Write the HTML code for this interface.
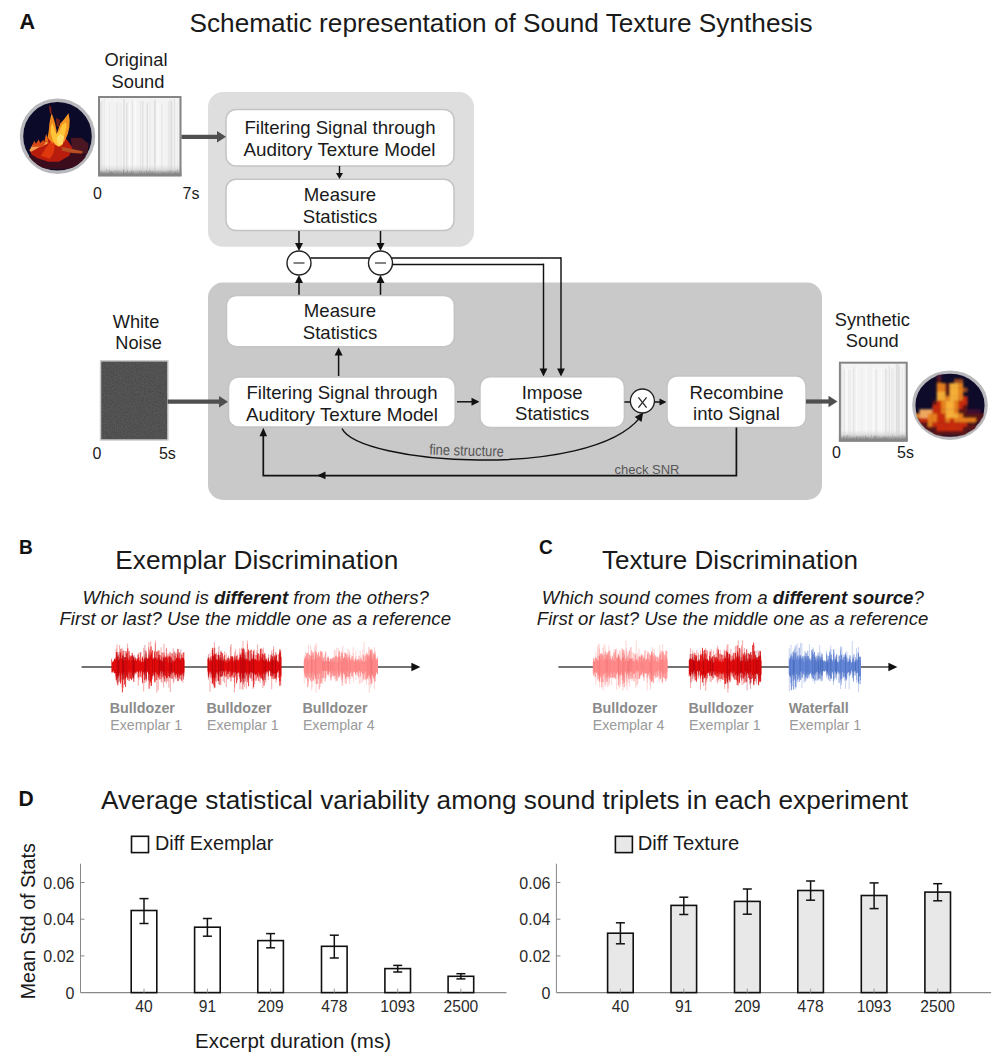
<!DOCTYPE html><html><head><meta charset="utf-8"><style>html,body{margin:0;padding:0;background:#fff;width:1004px;height:1064px;overflow:hidden} svg{display:block} text{font-family:"Liberation Sans", sans-serif}</style></head><body>
<svg width="1004" height="1064" viewBox="0 0 1004 1064">
<rect width="1004" height="1064" fill="#fff"/>
<text x="19.6" y="28.5" font-size="21.5" text-anchor="start" fill="#111" font-weight="bold" textLength="15.6" lengthAdjust="spacingAndGlyphs">A</text>
<text x="189.5" y="31.5" font-size="26" text-anchor="start" fill="#1a1a1a" textLength="623" lengthAdjust="spacingAndGlyphs">Schematic representation of Sound Texture Synthesis</text>
<rect x="208" y="92" width="266" height="154.8" rx="15" fill="#dedede" stroke="none" stroke-width="0"/>
<rect x="208" y="282.5" width="614" height="217.5" rx="15" fill="#c9c9c9" stroke="none" stroke-width="0"/>
<defs><linearGradient id="band" x1="0" y1="0" x2="0" y2="1"><stop offset="0" stop-color="#ddd" stop-opacity="0"/><stop offset="0.45" stop-color="#c8c8c8" stop-opacity="0.6"/><stop offset="0.75" stop-color="#8a8a8a" stop-opacity="0.9"/><stop offset="1" stop-color="#707070" stop-opacity="1"/></linearGradient><filter id="noise" x="0" y="0" width="100%" height="100%"><feTurbulence type="fractalNoise" baseFrequency="0.9" numOctaves="2" seed="3"/><feColorMatrix type="matrix" values="0 0 0 0 0.5  0 0 0 0 0.5  0 0 0 0 0.5  0 0 0 0.6 -0.1"/><feComposite in2="SourceGraphic" operator="in"/></filter><filter id="soft2"><feGaussianBlur stdDeviation="0.8"/></filter><filter id="soft"><feGaussianBlur stdDeviation="0.45"/></filter><clipPath id="fc1"><circle cx="57.5" cy="136.3" r="35"/></clipPath><clipPath id="fc2"><ellipse cx="950" cy="405.2" rx="35.5" ry="32.5"/></clipPath></defs>
<g>
<rect x="98" y="96" width="83.5" height="80.30000000000001" fill="#f4f4f4"/>
<line x1="100.5" y1="101.4" x2="100.5" y2="174.3" stroke="rgb(226,226,226)" stroke-width="1.44"/>
<line x1="101.8" y1="101.0" x2="101.8" y2="174.3" stroke="rgb(225,225,225)" stroke-width="1.16"/>
<line x1="104.2" y1="98.6" x2="104.2" y2="174.3" stroke="rgb(231,231,231)" stroke-width="0.82"/>
<line x1="106.9" y1="101.6" x2="106.9" y2="174.3" stroke="rgb(245,245,245)" stroke-width="1.41"/>
<line x1="109.3" y1="102.3" x2="109.3" y2="174.3" stroke="rgb(235,235,235)" stroke-width="0.98"/>
<line x1="112.2" y1="98.2" x2="112.2" y2="174.3" stroke="rgb(238,238,238)" stroke-width="0.82"/>
<line x1="114.4" y1="102.1" x2="114.4" y2="174.3" stroke="rgb(242,242,242)" stroke-width="1.58"/>
<line x1="116.9" y1="102.6" x2="116.9" y2="174.3" stroke="rgb(232,232,232)" stroke-width="1.55"/>
<line x1="119.1" y1="99.4" x2="119.1" y2="174.3" stroke="rgb(240,240,240)" stroke-width="0.98"/>
<line x1="121.1" y1="103.6" x2="121.1" y2="174.3" stroke="rgb(236,236,236)" stroke-width="1.13"/>
<line x1="124.0" y1="99.1" x2="124.0" y2="174.3" stroke="rgb(224,224,224)" stroke-width="1.59"/>
<line x1="126.7" y1="102.5" x2="126.7" y2="174.3" stroke="rgb(225,225,225)" stroke-width="1.52"/>
<line x1="129.7" y1="103.6" x2="129.7" y2="174.3" stroke="rgb(250,250,250)" stroke-width="1.14"/>
<line x1="132.4" y1="99.8" x2="132.4" y2="174.3" stroke="rgb(230,230,230)" stroke-width="1.27"/>
<line x1="135.2" y1="100.4" x2="135.2" y2="174.3" stroke="rgb(250,250,250)" stroke-width="1.48"/>
<line x1="137.2" y1="100.5" x2="137.2" y2="174.3" stroke="rgb(243,243,243)" stroke-width="0.94"/>
<line x1="139.4" y1="98.5" x2="139.4" y2="174.3" stroke="rgb(241,241,241)" stroke-width="1.33"/>
<line x1="140.8" y1="101.1" x2="140.8" y2="174.3" stroke="rgb(228,228,228)" stroke-width="1.11"/>
<line x1="142.9" y1="100.8" x2="142.9" y2="174.3" stroke="rgb(219,219,219)" stroke-width="1.05"/>
<line x1="145.6" y1="101.9" x2="145.6" y2="174.3" stroke="rgb(243,243,243)" stroke-width="0.93"/>
<line x1="147.2" y1="102.6" x2="147.2" y2="174.3" stroke="rgb(218,218,218)" stroke-width="1.23"/>
<line x1="150.0" y1="100.4" x2="150.0" y2="174.3" stroke="rgb(232,232,232)" stroke-width="1.08"/>
<line x1="152.7" y1="100.8" x2="152.7" y2="174.3" stroke="rgb(240,240,240)" stroke-width="1.02"/>
<line x1="154.9" y1="100.3" x2="154.9" y2="174.3" stroke="rgb(218,218,218)" stroke-width="1.49"/>
<line x1="157.8" y1="102.9" x2="157.8" y2="174.3" stroke="rgb(250,250,250)" stroke-width="1.21"/>
<line x1="160.0" y1="103.7" x2="160.0" y2="174.3" stroke="rgb(245,245,245)" stroke-width="1.18"/>
<line x1="161.9" y1="103.6" x2="161.9" y2="174.3" stroke="rgb(230,230,230)" stroke-width="1.13"/>
<line x1="164.6" y1="100.1" x2="164.6" y2="174.3" stroke="rgb(244,244,244)" stroke-width="1.23"/>
<line x1="166.9" y1="100.7" x2="166.9" y2="174.3" stroke="rgb(239,239,239)" stroke-width="0.82"/>
<line x1="168.5" y1="101.3" x2="168.5" y2="174.3" stroke="rgb(229,229,229)" stroke-width="0.94"/>
<line x1="169.9" y1="98.2" x2="169.9" y2="174.3" stroke="rgb(234,234,234)" stroke-width="1.55"/>
<line x1="171.2" y1="100.7" x2="171.2" y2="174.3" stroke="rgb(219,219,219)" stroke-width="1.40"/>
<line x1="172.9" y1="98.7" x2="172.9" y2="174.3" stroke="rgb(235,235,235)" stroke-width="1.30"/>
<line x1="174.7" y1="99.0" x2="174.7" y2="174.3" stroke="rgb(222,222,222)" stroke-width="1.00"/>
<line x1="177.6" y1="101.9" x2="177.6" y2="174.3" stroke="rgb(235,235,235)" stroke-width="1.04"/>
<rect x="98" y="164.3" width="83.5" height="12" fill="url(#band)"/>
<line x1="100.0" y1="170.9" x2="100.0" y2="174.3" stroke="rgb(141,141,141)" stroke-width="0.7" opacity="0.7"/>
<line x1="101.2" y1="171.3" x2="101.2" y2="174.3" stroke="rgb(134,134,134)" stroke-width="0.7" opacity="0.7"/>
<line x1="103.9" y1="172.0" x2="103.9" y2="174.3" stroke="rgb(126,126,126)" stroke-width="0.7" opacity="0.7"/>
<line x1="106.7" y1="169.4" x2="106.7" y2="174.3" stroke="rgb(142,142,142)" stroke-width="0.7" opacity="0.7"/>
<line x1="109.6" y1="169.8" x2="109.6" y2="174.3" stroke="rgb(137,137,137)" stroke-width="0.7" opacity="0.7"/>
<line x1="110.9" y1="171.1" x2="110.9" y2="174.3" stroke="rgb(111,111,111)" stroke-width="0.7" opacity="0.7"/>
<line x1="112.1" y1="171.0" x2="112.1" y2="174.3" stroke="rgb(120,120,120)" stroke-width="0.7" opacity="0.7"/>
<line x1="114.2" y1="170.7" x2="114.2" y2="174.3" stroke="rgb(137,137,137)" stroke-width="0.7" opacity="0.7"/>
<line x1="115.8" y1="169.9" x2="115.8" y2="174.3" stroke="rgb(150,150,150)" stroke-width="0.7" opacity="0.7"/>
<line x1="118.0" y1="170.7" x2="118.0" y2="174.3" stroke="rgb(124,124,124)" stroke-width="0.7" opacity="0.7"/>
<line x1="119.2" y1="170.6" x2="119.2" y2="174.3" stroke="rgb(153,153,153)" stroke-width="0.7" opacity="0.7"/>
<line x1="121.0" y1="171.0" x2="121.0" y2="174.3" stroke="rgb(150,150,150)" stroke-width="0.7" opacity="0.7"/>
<line x1="123.5" y1="169.4" x2="123.5" y2="174.3" stroke="rgb(118,118,118)" stroke-width="0.7" opacity="0.7"/>
<line x1="126.3" y1="172.1" x2="126.3" y2="174.3" stroke="rgb(129,129,129)" stroke-width="0.7" opacity="0.7"/>
<line x1="127.6" y1="170.1" x2="127.6" y2="174.3" stroke="rgb(129,129,129)" stroke-width="0.7" opacity="0.7"/>
<line x1="129.6" y1="171.9" x2="129.6" y2="174.3" stroke="rgb(126,126,126)" stroke-width="0.7" opacity="0.7"/>
<line x1="131.8" y1="170.5" x2="131.8" y2="174.3" stroke="rgb(112,112,112)" stroke-width="0.7" opacity="0.7"/>
<line x1="133.4" y1="170.9" x2="133.4" y2="174.3" stroke="rgb(146,146,146)" stroke-width="0.7" opacity="0.7"/>
<line x1="136.1" y1="170.2" x2="136.1" y2="174.3" stroke="rgb(159,159,159)" stroke-width="0.7" opacity="0.7"/>
<line x1="138.2" y1="171.7" x2="138.2" y2="174.3" stroke="rgb(134,134,134)" stroke-width="0.7" opacity="0.7"/>
<line x1="139.6" y1="170.3" x2="139.6" y2="174.3" stroke="rgb(146,146,146)" stroke-width="0.7" opacity="0.7"/>
<line x1="141.6" y1="170.8" x2="141.6" y2="174.3" stroke="rgb(122,122,122)" stroke-width="0.7" opacity="0.7"/>
<line x1="144.4" y1="171.4" x2="144.4" y2="174.3" stroke="rgb(134,134,134)" stroke-width="0.7" opacity="0.7"/>
<line x1="146.5" y1="170.5" x2="146.5" y2="174.3" stroke="rgb(130,130,130)" stroke-width="0.7" opacity="0.7"/>
<line x1="148.5" y1="172.2" x2="148.5" y2="174.3" stroke="rgb(128,128,128)" stroke-width="0.7" opacity="0.7"/>
<line x1="150.0" y1="169.9" x2="150.0" y2="174.3" stroke="rgb(130,130,130)" stroke-width="0.7" opacity="0.7"/>
<line x1="152.2" y1="171.3" x2="152.2" y2="174.3" stroke="rgb(118,118,118)" stroke-width="0.7" opacity="0.7"/>
<line x1="153.8" y1="172.0" x2="153.8" y2="174.3" stroke="rgb(153,153,153)" stroke-width="0.7" opacity="0.7"/>
<line x1="155.7" y1="171.3" x2="155.7" y2="174.3" stroke="rgb(145,145,145)" stroke-width="0.7" opacity="0.7"/>
<line x1="158.5" y1="170.7" x2="158.5" y2="174.3" stroke="rgb(153,153,153)" stroke-width="0.7" opacity="0.7"/>
<line x1="161.1" y1="171.6" x2="161.1" y2="174.3" stroke="rgb(144,144,144)" stroke-width="0.7" opacity="0.7"/>
<line x1="163.6" y1="171.9" x2="163.6" y2="174.3" stroke="rgb(115,115,115)" stroke-width="0.7" opacity="0.7"/>
<line x1="165.1" y1="171.7" x2="165.1" y2="174.3" stroke="rgb(144,144,144)" stroke-width="0.7" opacity="0.7"/>
<line x1="167.7" y1="170.8" x2="167.7" y2="174.3" stroke="rgb(148,148,148)" stroke-width="0.7" opacity="0.7"/>
<line x1="169.3" y1="171.3" x2="169.3" y2="174.3" stroke="rgb(131,131,131)" stroke-width="0.7" opacity="0.7"/>
<line x1="171.0" y1="170.0" x2="171.0" y2="174.3" stroke="rgb(148,148,148)" stroke-width="0.7" opacity="0.7"/>
<line x1="173.5" y1="171.9" x2="173.5" y2="174.3" stroke="rgb(141,141,141)" stroke-width="0.7" opacity="0.7"/>
<line x1="175.7" y1="171.3" x2="175.7" y2="174.3" stroke="rgb(116,116,116)" stroke-width="0.7" opacity="0.7"/>
<line x1="177.7" y1="169.7" x2="177.7" y2="174.3" stroke="rgb(134,134,134)" stroke-width="0.7" opacity="0.7"/>
<rect x="99" y="97" width="81.5" height="78.30000000000001" fill="none" stroke="#858585" stroke-width="2"/>
</g>
<text x="136" y="66.3" font-size="18.3" text-anchor="middle" fill="#1a1a1a">Original</text>
<text x="138" y="87.8" font-size="18.3" text-anchor="middle" fill="#1a1a1a">Sound</text>
<text x="97.5" y="199" font-size="16" text-anchor="middle" fill="#1a1a1a">0</text>
<text x="191" y="199" font-size="16" text-anchor="middle" fill="#1a1a1a">7s</text>
<circle cx="57.5" cy="136.3" r="36" fill="#0b0a28" stroke="#b9b9bd" stroke-width="3.4"/>
<g clip-path="url(#fc1)" filter="url(#soft)">
<ellipse cx="57.3" cy="159.5" rx="29.9" ry="9.7" fill="#3a0c1c"/>
<polygon points="70.8,137.8 81.2,137.8 88.7,143.8 87.2,154.3 72.3,154.3" fill="#4a1424"/>
<polygon points="29.7,150.5 34.9,145.3 42.4,143.1 46.9,139.3 51.4,134.1 55.1,131.9 61.8,134.1 67.8,140.8 72.3,147.5 69.3,155.8 58.8,161.7 48.4,161.7 37.2,158.0 31.2,154.3" fill="#b81c10"/>
<polygon points="40.9,155.8 46.1,147.5 51.4,140.8 55.1,143.8 53.6,152.8 49.9,158.7" fill="#e03810"/>
<polygon points="47.6,137.8 48.8,130.4 49.5,122.9 50.6,116.9 51.7,113.2 53.6,118.4 55.1,123.6 56.6,130.4 55.8,137.8 52.9,143.8" fill="#f08a1c"/>
<polygon points="55.1,140.8 57.3,131.9 60.3,123.6 64.1,119.2 68.5,113.2 69.7,119.9 69.3,127.4 67.8,134.1 64.8,140.8 60.3,146.8" fill="#f49424"/>
<polygon points="50.6,132.6 51.0,126.6 52.5,122.9 54.4,128.9 56.6,134.1 59.6,130.4 62.6,124.4 65.9,122.2 66.7,126.6 65.2,132.6 63.3,139.3 62.6,144.6 58.8,146.8 55.1,144.6 52.9,140.8" fill="#ffc438"/>
<polygon points="56.6,137.8 60.3,134.1 64.1,136.3 62.6,143.8 58.1,145.3" fill="#ffdc68"/>
<polygon points="29.3,150.5 32.7,144.6 36.4,144.9 38.7,143.1 42.4,143.1 46.9,141.6 47.6,143.8 38.7,147.5 31.2,151.7" fill="#f0a050"/>
<polygon points="49.1,105.0 51.0,107.2 51.7,113.9 49.9,113.2" fill="#8a2018"/>
<polygon points="31.9,146.8 34.2,140.8 36.1,143.8 38.7,139.3 40.2,143.1 43.2,140.1 45.4,143.1 42.4,146.8" fill="#d84818"/>
<polygon points="44.6,140.8 46.1,134.1 47.6,137.8 48.4,143.8" fill="#e86a18"/>
<polygon points="61.8,146.8 72.3,149.0 82.7,151.3 82.0,153.5 70.8,152.8 61.8,150.5" fill="#b85020"/>
<polygon points="55.8,117.7 60.3,119.9 58.8,127.4 56.6,125.9" fill="#6a1a18"/>
</g>
<rect x="226" y="109.5" width="228" height="56.5" rx="10" fill="#fff" stroke="#c4c4c4" stroke-width="1.5"/>
<text x="340" y="134.4" font-size="18.6" text-anchor="middle" fill="#1a1a1a" textLength="191" lengthAdjust="spacingAndGlyphs">Filtering Signal through</text>
<text x="339.5" y="156.1" font-size="18.6" text-anchor="middle" fill="#1a1a1a" textLength="192" lengthAdjust="spacingAndGlyphs">Auditory Texture Model</text>
<rect x="226" y="179.3" width="228" height="51.29999999999998" rx="10" fill="#fff" stroke="#c4c4c4" stroke-width="1.5"/>
<text x="340" y="201" font-size="18.6" text-anchor="middle" fill="#1a1a1a">Measure</text>
<text x="340" y="222.5" font-size="18.6" text-anchor="middle" fill="#1a1a1a">Statistics</text>
<line x1="339.5" y1="166" x2="339.5" y2="175.4" stroke="#111" stroke-width="1.4"/>
<polygon points="339.5,179.0 336.0,173.0 343.0,173.0" fill="#111"/>
<line x1="181.5" y1="136.8" x2="220.6" y2="136.8" stroke="#4f4f4f" stroke-width="4.2"/>
<polygon points="226.0,136.8 217.0,142.6 217.0,131.0" fill="#4f4f4f"/>
<line x1="299" y1="231" x2="299.0" y2="246.2" stroke="#111" stroke-width="1.5"/>
<polygon points="299.0,251.0 295.0,243.0 303.0,243.0" fill="#111"/>
<line x1="299" y1="295.5" x2="299.0" y2="279.8" stroke="#111" stroke-width="1.5"/>
<polygon points="299.0,275.0 303.0,283.0 295.0,283.0" fill="#111"/>
<circle cx="299" cy="263" r="12" fill="#fff" stroke="#222" stroke-width="1.4"/>
<line x1="293.5" y1="263" x2="304.5" y2="263" stroke="#333" stroke-width="1.2"/>
<line x1="380.5" y1="231" x2="380.5" y2="246.2" stroke="#111" stroke-width="1.5"/>
<polygon points="380.5,251.0 376.5,243.0 384.5,243.0" fill="#111"/>
<line x1="380.5" y1="295.5" x2="380.5" y2="279.8" stroke="#111" stroke-width="1.5"/>
<polygon points="380.5,275.0 384.5,283.0 376.5,283.0" fill="#111"/>
<circle cx="380.5" cy="263" r="12" fill="#fff" stroke="#222" stroke-width="1.4"/>
<line x1="375.0" y1="263" x2="386.0" y2="263" stroke="#333" stroke-width="1.2"/>
<line x1="310.5" y1="258" x2="369" y2="258" stroke="#111" stroke-width="1.45"/>
<line x1="391.5" y1="258" x2="561" y2="258" stroke="#111" stroke-width="1.45"/>
<line x1="561" y1="257.2" x2="561" y2="370" stroke="#111" stroke-width="1.45"/>
<polygon points="561.0,376.5 557.1,368.5 564.9,368.5" fill="#111"/>
<line x1="392.5" y1="264.4" x2="543.5" y2="264.4" stroke="#111" stroke-width="1.45"/>
<line x1="543.5" y1="263.6" x2="543.5" y2="370" stroke="#111" stroke-width="1.45"/>
<polygon points="543.5,376.5 539.6,368.5 547.4,368.5" fill="#111"/>
<rect x="226.5" y="295.4" width="227.8" height="51.30000000000001" rx="10" fill="#fff" stroke="#c4c4c4" stroke-width="1.5"/>
<text x="340" y="317.4" font-size="18.6" text-anchor="middle" fill="#1a1a1a">Measure</text>
<text x="340" y="338.6" font-size="18.6" text-anchor="middle" fill="#1a1a1a">Statistics</text>
<rect x="228.5" y="377" width="226.7" height="50" rx="10" fill="#fff" stroke="#c4c4c4" stroke-width="1.5"/>
<text x="342" y="398.5" font-size="18.6" text-anchor="middle" fill="#1a1a1a" textLength="191" lengthAdjust="spacingAndGlyphs">Filtering Signal through</text>
<text x="342" y="420.6" font-size="18.6" text-anchor="middle" fill="#1a1a1a" textLength="192" lengthAdjust="spacingAndGlyphs">Auditory Texture Model</text>
<line x1="338.6" y1="376" x2="338.6" y2="352.3" stroke="#111" stroke-width="1.5"/>
<polygon points="338.6,347.5 342.6,355.5 334.6,355.5" fill="#111"/>
<rect x="100.5" y="360.8" width="67.4" height="79.2" fill="none" stroke="#c8c8c8" stroke-width="1.4"/>
<rect x="101.2" y="361.5" width="66" height="77.8" fill="#474747"/>
<rect x="101.2" y="361.5" width="66" height="77.8" fill="#474747" filter="url(#noise)" opacity="0.45"/>
<text x="136" y="328" font-size="18.2" text-anchor="middle" fill="#1a1a1a">White</text>
<text x="138.6" y="349.2" font-size="18.2" text-anchor="middle" fill="#1a1a1a">Noise</text>
<text x="97" y="459" font-size="16" text-anchor="middle" fill="#1a1a1a">0</text>
<text x="167.4" y="459" font-size="16" text-anchor="middle" fill="#1a1a1a">5s</text>
<line x1="167.6" y1="401.7" x2="222.6" y2="401.7" stroke="#4f4f4f" stroke-width="4.2"/>
<polygon points="228.0,401.7 219.0,407.5 219.0,395.9" fill="#4f4f4f"/>
<line x1="457" y1="401.8" x2="474.7" y2="401.8" stroke="#111" stroke-width="1.5"/>
<polygon points="479.5,401.8 471.5,405.8 471.5,397.8" fill="#111"/>
<rect x="480" y="376.7" width="144.39999999999998" height="50.80000000000001" rx="10" fill="#fff" stroke="#c4c4c4" stroke-width="1.5"/>
<text x="552.2" y="398.5" font-size="18.6" text-anchor="middle" fill="#1a1a1a">Impose</text>
<text x="552.2" y="420" font-size="18.6" text-anchor="middle" fill="#1a1a1a">Statistics</text>
<line x1="624.4" y1="402" x2="630.4" y2="402" stroke="#111" stroke-width="1.5"/>
<circle cx="642.4" cy="401" r="12" fill="#fff" stroke="#222" stroke-width="1.3"/>
<line x1="638.4" y1="397.3" x2="646.6" y2="407.6" stroke="#222" stroke-width="1.25"/>
<line x1="646.6" y1="397.3" x2="638.4" y2="407.6" stroke="#222" stroke-width="1.25"/>
<line x1="654.6" y1="402" x2="662.3" y2="402.0" stroke="#111" stroke-width="1.5"/>
<polygon points="666.5,402.0 659.5,405.6 659.5,398.4" fill="#111"/>
<rect x="667" y="376" width="139" height="51.39999999999998" rx="10" fill="#fff" stroke="#c4c4c4" stroke-width="1.5"/>
<text x="736.5" y="399.2" font-size="18.6" text-anchor="middle" fill="#1a1a1a">Recombine</text>
<text x="736.5" y="420.3" font-size="18.6" text-anchor="middle" fill="#1a1a1a">into Signal</text>
<line x1="806" y1="401.5" x2="832.1" y2="401.5" stroke="#4f4f4f" stroke-width="4.2"/>
<polygon points="837.5,401.5 828.5,407.3 828.5,395.7" fill="#4f4f4f"/>
<polyline points="736.4,427.4 736.4,475.6 263.3,475.6 263.3,434" fill="none" stroke="#111" stroke-width="1.7"/>
<polygon points="263.3,427.8 267.1,436.3 259.5,436.3" fill="#111"/>
<polygon points="317.0,475.4 325.5,471.6 325.5,479.2" fill="#111"/>
<text x="647" y="474.1" font-size="13.5" text-anchor="middle" fill="#555" textLength="65" lengthAdjust="spacingAndGlyphs">check SNR</text>
<path d="M342,428.5 C358.8,464.3 588.8,480.5 640,417.6" fill="none" stroke="#111" stroke-width="1.5"/>
<polygon points="643.2,412.6 641.5,421.9 634.7,416.9" fill="#111"/>
<text x="466.5" y="455.6" font-size="15" text-anchor="middle" fill="#555" textLength="74.5" lengthAdjust="spacingAndGlyphs" transform="rotate(1.6 466.5 452)">fine structure</text>
<g>
<rect x="838.9" y="361.7" width="68.80000000000007" height="79.90000000000003" fill="#f4f4f4"/>
<line x1="841.4" y1="364.2" x2="841.4" y2="439.6" stroke="rgb(221,221,221)" stroke-width="1.09"/>
<line x1="842.9" y1="365.2" x2="842.9" y2="439.6" stroke="rgb(237,237,237)" stroke-width="0.97"/>
<line x1="844.2" y1="369.7" x2="844.2" y2="439.6" stroke="rgb(228,228,228)" stroke-width="1.31"/>
<line x1="846.8" y1="369.4" x2="846.8" y2="439.6" stroke="rgb(250,250,250)" stroke-width="1.24"/>
<line x1="848.8" y1="369.1" x2="848.8" y2="439.6" stroke="rgb(235,235,235)" stroke-width="1.50"/>
<line x1="850.7" y1="369.1" x2="850.7" y2="439.6" stroke="rgb(238,238,238)" stroke-width="1.14"/>
<line x1="853.5" y1="367.1" x2="853.5" y2="439.6" stroke="rgb(228,228,228)" stroke-width="0.99"/>
<line x1="854.7" y1="364.7" x2="854.7" y2="439.6" stroke="rgb(238,238,238)" stroke-width="1.21"/>
<line x1="856.6" y1="367.7" x2="856.6" y2="439.6" stroke="rgb(250,250,250)" stroke-width="0.95"/>
<line x1="859.4" y1="368.1" x2="859.4" y2="439.6" stroke="rgb(244,244,244)" stroke-width="1.53"/>
<line x1="861.9" y1="365.9" x2="861.9" y2="439.6" stroke="rgb(240,240,240)" stroke-width="1.49"/>
<line x1="863.9" y1="368.0" x2="863.9" y2="439.6" stroke="rgb(243,243,243)" stroke-width="1.17"/>
<line x1="866.1" y1="365.4" x2="866.1" y2="439.6" stroke="rgb(249,249,249)" stroke-width="1.20"/>
<line x1="868.2" y1="367.7" x2="868.2" y2="439.6" stroke="rgb(240,240,240)" stroke-width="1.16"/>
<line x1="871.0" y1="367.1" x2="871.0" y2="439.6" stroke="rgb(240,240,240)" stroke-width="1.54"/>
<line x1="873.5" y1="367.7" x2="873.5" y2="439.6" stroke="rgb(249,249,249)" stroke-width="1.55"/>
<line x1="876.2" y1="369.0" x2="876.2" y2="439.6" stroke="rgb(228,228,228)" stroke-width="1.29"/>
<line x1="878.8" y1="365.6" x2="878.8" y2="439.6" stroke="rgb(248,248,248)" stroke-width="1.57"/>
<line x1="881.3" y1="367.1" x2="881.3" y2="439.6" stroke="rgb(250,250,250)" stroke-width="1.21"/>
<line x1="883.6" y1="365.6" x2="883.6" y2="439.6" stroke="rgb(244,244,244)" stroke-width="0.97"/>
<line x1="885.7" y1="368.4" x2="885.7" y2="439.6" stroke="rgb(222,222,222)" stroke-width="1.07"/>
<line x1="886.9" y1="369.7" x2="886.9" y2="439.6" stroke="rgb(230,230,230)" stroke-width="0.88"/>
<line x1="889.2" y1="365.3" x2="889.2" y2="439.6" stroke="rgb(221,221,221)" stroke-width="0.98"/>
<line x1="891.9" y1="368.2" x2="891.9" y2="439.6" stroke="rgb(224,224,224)" stroke-width="0.91"/>
<line x1="893.6" y1="369.4" x2="893.6" y2="439.6" stroke="rgb(231,231,231)" stroke-width="0.85"/>
<line x1="896.4" y1="364.0" x2="896.4" y2="439.6" stroke="rgb(220,220,220)" stroke-width="1.09"/>
<line x1="898.1" y1="364.2" x2="898.1" y2="439.6" stroke="rgb(219,219,219)" stroke-width="1.56"/>
<line x1="899.3" y1="365.9" x2="899.3" y2="439.6" stroke="rgb(219,219,219)" stroke-width="0.90"/>
<line x1="902.2" y1="366.8" x2="902.2" y2="439.6" stroke="rgb(229,229,229)" stroke-width="0.80"/>
<line x1="904.5" y1="364.6" x2="904.5" y2="439.6" stroke="rgb(233,233,233)" stroke-width="0.83"/>
<rect x="838.9" y="429.6" width="68.80000000000007" height="12" fill="url(#band)"/>
<line x1="840.9" y1="435.7" x2="840.9" y2="439.6" stroke="rgb(149,149,149)" stroke-width="0.7" opacity="0.7"/>
<line x1="843.4" y1="436.6" x2="843.4" y2="439.6" stroke="rgb(128,128,128)" stroke-width="0.7" opacity="0.7"/>
<line x1="844.7" y1="435.9" x2="844.7" y2="439.6" stroke="rgb(138,138,138)" stroke-width="0.7" opacity="0.7"/>
<line x1="847.0" y1="434.9" x2="847.0" y2="439.6" stroke="rgb(112,112,112)" stroke-width="0.7" opacity="0.7"/>
<line x1="849.6" y1="435.5" x2="849.6" y2="439.6" stroke="rgb(149,149,149)" stroke-width="0.7" opacity="0.7"/>
<line x1="851.6" y1="437.3" x2="851.6" y2="439.6" stroke="rgb(124,124,124)" stroke-width="0.7" opacity="0.7"/>
<line x1="854.0" y1="437.5" x2="854.0" y2="439.6" stroke="rgb(116,116,116)" stroke-width="0.7" opacity="0.7"/>
<line x1="856.7" y1="436.0" x2="856.7" y2="439.6" stroke="rgb(118,118,118)" stroke-width="0.7" opacity="0.7"/>
<line x1="859.3" y1="436.1" x2="859.3" y2="439.6" stroke="rgb(141,141,141)" stroke-width="0.7" opacity="0.7"/>
<line x1="860.7" y1="436.8" x2="860.7" y2="439.6" stroke="rgb(131,131,131)" stroke-width="0.7" opacity="0.7"/>
<line x1="863.0" y1="435.6" x2="863.0" y2="439.6" stroke="rgb(136,136,136)" stroke-width="0.7" opacity="0.7"/>
<line x1="865.5" y1="435.6" x2="865.5" y2="439.6" stroke="rgb(118,118,118)" stroke-width="0.7" opacity="0.7"/>
<line x1="867.1" y1="437.1" x2="867.1" y2="439.6" stroke="rgb(118,118,118)" stroke-width="0.7" opacity="0.7"/>
<line x1="868.5" y1="436.9" x2="868.5" y2="439.6" stroke="rgb(150,150,150)" stroke-width="0.7" opacity="0.7"/>
<line x1="871.4" y1="434.8" x2="871.4" y2="439.6" stroke="rgb(155,155,155)" stroke-width="0.7" opacity="0.7"/>
<line x1="874.3" y1="435.5" x2="874.3" y2="439.6" stroke="rgb(124,124,124)" stroke-width="0.7" opacity="0.7"/>
<line x1="875.7" y1="435.8" x2="875.7" y2="439.6" stroke="rgb(115,115,115)" stroke-width="0.7" opacity="0.7"/>
<line x1="878.0" y1="435.5" x2="878.0" y2="439.6" stroke="rgb(149,149,149)" stroke-width="0.7" opacity="0.7"/>
<line x1="879.7" y1="436.8" x2="879.7" y2="439.6" stroke="rgb(137,137,137)" stroke-width="0.7" opacity="0.7"/>
<line x1="882.2" y1="437.5" x2="882.2" y2="439.6" stroke="rgb(119,119,119)" stroke-width="0.7" opacity="0.7"/>
<line x1="884.1" y1="436.1" x2="884.1" y2="439.6" stroke="rgb(117,117,117)" stroke-width="0.7" opacity="0.7"/>
<line x1="885.5" y1="437.3" x2="885.5" y2="439.6" stroke="rgb(116,116,116)" stroke-width="0.7" opacity="0.7"/>
<line x1="887.0" y1="437.3" x2="887.0" y2="439.6" stroke="rgb(124,124,124)" stroke-width="0.7" opacity="0.7"/>
<line x1="888.3" y1="436.2" x2="888.3" y2="439.6" stroke="rgb(152,152,152)" stroke-width="0.7" opacity="0.7"/>
<line x1="890.0" y1="436.5" x2="890.0" y2="439.6" stroke="rgb(151,151,151)" stroke-width="0.7" opacity="0.7"/>
<line x1="892.5" y1="434.7" x2="892.5" y2="439.6" stroke="rgb(158,158,158)" stroke-width="0.7" opacity="0.7"/>
<line x1="895.0" y1="436.3" x2="895.0" y2="439.6" stroke="rgb(137,137,137)" stroke-width="0.7" opacity="0.7"/>
<line x1="896.2" y1="437.4" x2="896.2" y2="439.6" stroke="rgb(147,147,147)" stroke-width="0.7" opacity="0.7"/>
<line x1="898.2" y1="435.9" x2="898.2" y2="439.6" stroke="rgb(143,143,143)" stroke-width="0.7" opacity="0.7"/>
<line x1="901.0" y1="435.2" x2="901.0" y2="439.6" stroke="rgb(152,152,152)" stroke-width="0.7" opacity="0.7"/>
<line x1="902.9" y1="434.7" x2="902.9" y2="439.6" stroke="rgb(143,143,143)" stroke-width="0.7" opacity="0.7"/>
<line x1="904.3" y1="436.7" x2="904.3" y2="439.6" stroke="rgb(133,133,133)" stroke-width="0.7" opacity="0.7"/>
<rect x="839.9" y="362.7" width="66.80000000000007" height="77.90000000000003" fill="none" stroke="#858585" stroke-width="2"/>
</g>
<text x="872.3" y="325.8" font-size="18.3" text-anchor="middle" fill="#1a1a1a">Synthetic</text>
<text x="872.3" y="347" font-size="18.3" text-anchor="middle" fill="#1a1a1a">Sound</text>
<text x="836.5" y="458" font-size="16" text-anchor="middle" fill="#1a1a1a">0</text>
<text x="905.5" y="458" font-size="16" text-anchor="middle" fill="#1a1a1a">5s</text>
<ellipse cx="950" cy="405.2" rx="36.2" ry="33.1" fill="#0e0a2a" stroke="#b9b9bd" stroke-width="3.2"/>
<g clip-path="url(#fc2)" filter="url(#soft2)">
<rect x="936.8" y="374.5" width="4.65" height="4.65" fill="#501434"/>
<rect x="936.8" y="378.9" width="4.65" height="4.65" fill="#5a1218"/>
<rect x="954.1" y="378.9" width="4.65" height="4.65" fill="#9a4820"/>
<rect x="958.5" y="378.9" width="4.65" height="4.65" fill="#9a4820"/>
<rect x="936.8" y="383.2" width="4.65" height="4.65" fill="#e8801a"/>
<rect x="941.1" y="383.2" width="4.65" height="4.65" fill="#e8801a"/>
<rect x="945.5" y="383.2" width="4.65" height="4.65" fill="#5a1218"/>
<rect x="949.8" y="383.2" width="4.65" height="4.65" fill="#f8b038"/>
<rect x="954.1" y="383.2" width="4.65" height="4.65" fill="#f8b038"/>
<rect x="958.5" y="383.2" width="4.65" height="4.65" fill="#e8801a"/>
<rect x="936.8" y="387.6" width="4.65" height="4.65" fill="#e8801a"/>
<rect x="941.1" y="387.6" width="4.65" height="4.65" fill="#e8801a"/>
<rect x="945.5" y="387.6" width="4.65" height="4.65" fill="#5a1218"/>
<rect x="949.8" y="387.6" width="4.65" height="4.65" fill="#f8b038"/>
<rect x="954.1" y="387.6" width="4.65" height="4.65" fill="#f8b038"/>
<rect x="958.5" y="387.6" width="4.65" height="4.65" fill="#e8801a"/>
<rect x="962.9" y="387.6" width="4.65" height="4.65" fill="#9a4820"/>
<rect x="936.8" y="391.9" width="4.65" height="4.65" fill="#f8b038"/>
<rect x="941.1" y="391.9" width="4.65" height="4.65" fill="#f8b038"/>
<rect x="945.5" y="391.9" width="4.65" height="4.65" fill="#5a1218"/>
<rect x="949.8" y="391.9" width="4.65" height="4.65" fill="#f8b038"/>
<rect x="954.1" y="391.9" width="4.65" height="4.65" fill="#f8b038"/>
<rect x="958.5" y="391.9" width="4.65" height="4.65" fill="#e8801a"/>
<rect x="936.8" y="396.2" width="4.65" height="4.65" fill="#f8b038"/>
<rect x="941.1" y="396.2" width="4.65" height="4.65" fill="#f8b038"/>
<rect x="945.5" y="396.2" width="4.65" height="4.65" fill="#e8801a"/>
<rect x="949.8" y="396.2" width="4.65" height="4.65" fill="#f8b038"/>
<rect x="954.1" y="396.2" width="4.65" height="4.65" fill="#f8b038"/>
<rect x="958.5" y="396.2" width="4.65" height="4.65" fill="#e8801a"/>
<rect x="962.9" y="396.2" width="4.65" height="4.65" fill="#c82a10"/>
<rect x="932.4" y="400.6" width="4.65" height="4.65" fill="#5a1218"/>
<rect x="936.8" y="400.6" width="4.65" height="4.65" fill="#c82a10"/>
<rect x="941.1" y="400.6" width="4.65" height="4.65" fill="#e8801a"/>
<rect x="945.5" y="400.6" width="4.65" height="4.65" fill="#f8b038"/>
<rect x="949.8" y="400.6" width="4.65" height="4.65" fill="#f8b038"/>
<rect x="954.1" y="400.6" width="4.65" height="4.65" fill="#e8801a"/>
<rect x="958.5" y="400.6" width="4.65" height="4.65" fill="#c82a10"/>
<rect x="962.9" y="400.6" width="4.65" height="4.65" fill="#c82a10"/>
<rect x="932.4" y="404.9" width="4.65" height="4.65" fill="#c82a10"/>
<rect x="936.8" y="404.9" width="4.65" height="4.65" fill="#c82a10"/>
<rect x="941.1" y="404.9" width="4.65" height="4.65" fill="#e8801a"/>
<rect x="945.5" y="404.9" width="4.65" height="4.65" fill="#f8b038"/>
<rect x="949.8" y="404.9" width="4.65" height="4.65" fill="#f8b038"/>
<rect x="954.1" y="404.9" width="4.65" height="4.65" fill="#e8801a"/>
<rect x="958.5" y="404.9" width="4.65" height="4.65" fill="#c82a10"/>
<rect x="962.9" y="404.9" width="4.65" height="4.65" fill="#5a1218"/>
<rect x="919.4" y="409.3" width="4.65" height="4.65" fill="#f0a860"/>
<rect x="923.7" y="409.3" width="4.65" height="4.65" fill="#f0a860"/>
<rect x="928.0" y="409.3" width="4.65" height="4.65" fill="#f0a860"/>
<rect x="932.4" y="409.3" width="4.65" height="4.65" fill="#c82a10"/>
<rect x="936.8" y="409.3" width="4.65" height="4.65" fill="#c82a10"/>
<rect x="941.1" y="409.3" width="4.65" height="4.65" fill="#e8801a"/>
<rect x="945.5" y="409.3" width="4.65" height="4.65" fill="#f8b038"/>
<rect x="949.8" y="409.3" width="4.65" height="4.65" fill="#f8b038"/>
<rect x="954.1" y="409.3" width="4.65" height="4.65" fill="#e8801a"/>
<rect x="958.5" y="409.3" width="4.65" height="4.65" fill="#5a1218"/>
<rect x="962.9" y="409.3" width="4.65" height="4.65" fill="#5a1218"/>
<rect x="967.2" y="409.3" width="4.65" height="4.65" fill="#401030"/>
<rect x="971.5" y="409.3" width="4.65" height="4.65" fill="#401030"/>
<rect x="975.9" y="409.3" width="4.65" height="4.65" fill="#401030"/>
<rect x="915.0" y="413.6" width="4.65" height="4.65" fill="#e8801a"/>
<rect x="919.4" y="413.6" width="4.65" height="4.65" fill="#f0a860"/>
<rect x="923.7" y="413.6" width="4.65" height="4.65" fill="#f0a860"/>
<rect x="928.0" y="413.6" width="4.65" height="4.65" fill="#e8801a"/>
<rect x="932.4" y="413.6" width="4.65" height="4.65" fill="#e8801a"/>
<rect x="936.8" y="413.6" width="4.65" height="4.65" fill="#c82a10"/>
<rect x="941.1" y="413.6" width="4.65" height="4.65" fill="#c82a10"/>
<rect x="945.5" y="413.6" width="4.65" height="4.65" fill="#f8b038"/>
<rect x="949.8" y="413.6" width="4.65" height="4.65" fill="#f8b038"/>
<rect x="954.1" y="413.6" width="4.65" height="4.65" fill="#f8b038"/>
<rect x="958.5" y="413.6" width="4.65" height="4.65" fill="#e8801a"/>
<rect x="962.9" y="413.6" width="4.65" height="4.65" fill="#5a1218"/>
<rect x="967.2" y="413.6" width="4.65" height="4.65" fill="#5a1218"/>
<rect x="971.5" y="413.6" width="4.65" height="4.65" fill="#5a1218"/>
<rect x="975.9" y="413.6" width="4.65" height="4.65" fill="#5a1218"/>
<rect x="980.2" y="413.6" width="4.65" height="4.65" fill="#5a1218"/>
<rect x="915.0" y="418.0" width="4.65" height="4.65" fill="#5a1218"/>
<rect x="919.4" y="418.0" width="4.65" height="4.65" fill="#c82a10"/>
<rect x="923.7" y="418.0" width="4.65" height="4.65" fill="#c82a10"/>
<rect x="928.0" y="418.0" width="4.65" height="4.65" fill="#e8801a"/>
<rect x="932.4" y="418.0" width="4.65" height="4.65" fill="#e8801a"/>
<rect x="936.8" y="418.0" width="4.65" height="4.65" fill="#c82a10"/>
<rect x="941.1" y="418.0" width="4.65" height="4.65" fill="#c82a10"/>
<rect x="945.5" y="418.0" width="4.65" height="4.65" fill="#e8801a"/>
<rect x="949.8" y="418.0" width="4.65" height="4.65" fill="#c82a10"/>
<rect x="954.1" y="418.0" width="4.65" height="4.65" fill="#e8801a"/>
<rect x="958.5" y="418.0" width="4.65" height="4.65" fill="#e8801a"/>
<rect x="962.9" y="418.0" width="4.65" height="4.65" fill="#e8801a"/>
<rect x="967.2" y="418.0" width="4.65" height="4.65" fill="#e8801a"/>
<rect x="971.5" y="418.0" width="4.65" height="4.65" fill="#e8801a"/>
<rect x="975.9" y="418.0" width="4.65" height="4.65" fill="#5a1218"/>
<rect x="919.4" y="422.4" width="4.65" height="4.65" fill="#5a1218"/>
<rect x="923.7" y="422.4" width="4.65" height="4.65" fill="#5a1218"/>
<rect x="928.0" y="422.4" width="4.65" height="4.65" fill="#e8801a"/>
<rect x="932.4" y="422.4" width="4.65" height="4.65" fill="#c82a10"/>
<rect x="936.8" y="422.4" width="4.65" height="4.65" fill="#c82a10"/>
<rect x="941.1" y="422.4" width="4.65" height="4.65" fill="#c82a10"/>
<rect x="945.5" y="422.4" width="4.65" height="4.65" fill="#c82a10"/>
<rect x="949.8" y="422.4" width="4.65" height="4.65" fill="#c82a10"/>
<rect x="954.1" y="422.4" width="4.65" height="4.65" fill="#c82a10"/>
<rect x="958.5" y="422.4" width="4.65" height="4.65" fill="#c82a10"/>
<rect x="962.9" y="422.4" width="4.65" height="4.65" fill="#c82a10"/>
<rect x="967.2" y="422.4" width="4.65" height="4.65" fill="#5a1218"/>
<rect x="971.5" y="422.4" width="4.65" height="4.65" fill="#5a1218"/>
<rect x="923.7" y="426.7" width="4.65" height="4.65" fill="#5a1218"/>
<rect x="928.0" y="426.7" width="4.65" height="4.65" fill="#5a1218"/>
<rect x="932.4" y="426.7" width="4.65" height="4.65" fill="#5a1218"/>
<rect x="936.8" y="426.7" width="4.65" height="4.65" fill="#c82a10"/>
<rect x="941.1" y="426.7" width="4.65" height="4.65" fill="#c82a10"/>
<rect x="945.5" y="426.7" width="4.65" height="4.65" fill="#c82a10"/>
<rect x="949.8" y="426.7" width="4.65" height="4.65" fill="#c82a10"/>
<rect x="954.1" y="426.7" width="4.65" height="4.65" fill="#c82a10"/>
<rect x="958.5" y="426.7" width="4.65" height="4.65" fill="#c82a10"/>
<rect x="962.9" y="426.7" width="4.65" height="4.65" fill="#5a1218"/>
<rect x="967.2" y="426.7" width="4.65" height="4.65" fill="#5a1218"/>
<rect x="971.5" y="426.7" width="4.65" height="4.65" fill="#5a1218"/>
<rect x="932.4" y="431.1" width="4.65" height="4.65" fill="#5a1218"/>
<rect x="936.8" y="431.1" width="4.65" height="4.65" fill="#5a1218"/>
<rect x="941.1" y="431.1" width="4.65" height="4.65" fill="#5a1218"/>
<rect x="945.5" y="431.1" width="4.65" height="4.65" fill="#5a1218"/>
<rect x="949.8" y="431.1" width="4.65" height="4.65" fill="#5a1218"/>
<rect x="954.1" y="431.1" width="4.65" height="4.65" fill="#5a1218"/>
<rect x="958.5" y="431.1" width="4.65" height="4.65" fill="#5a1218"/>
<rect x="962.9" y="431.1" width="4.65" height="4.65" fill="#5a1218"/>
</g>
<text x="19.0" y="554.4" font-size="21" text-anchor="start" fill="#111" font-weight="bold" textLength="13.8" lengthAdjust="spacingAndGlyphs">B</text>
<text x="115.3" y="569.1" font-size="26" text-anchor="start" fill="#1a1a1a" textLength="283" lengthAdjust="spacingAndGlyphs">Exemplar Discrimination</text>
<text x="82.5" y="603.5" font-size="18.6" font-style="italic" fill="#1a1a1a" textLength="346.5" lengthAdjust="spacingAndGlyphs">Which sound is <tspan font-weight="bold">different</tspan> from the others?</text>
<text x="59.5" y="625.1" font-size="18.6" text-anchor="start" fill="#1a1a1a" font-style="italic" textLength="391.5" lengthAdjust="spacingAndGlyphs">First or last? Use the middle one as a reference</text>
<line x1="81.6" y1="667" x2="414.4" y2="667" stroke="#444" stroke-width="1.4"/>
<polygon points="420.4,667.0 411.4,671.2 411.4,662.8" fill="#111"/>
<path d="M143.7,647.7V691.4M116.5,653.6V681.7M122.0,647.7V687.0M161.6,652.6V677.2M127.9,650.7V678.5M149.6,650.3V684.8M172.8,654.0V678.3M149.7,650.9V680.3M155.5,640.5V682.6M169.7,652.2V677.9M150.7,641.3V686.5M146.0,650.8V682.3M146.3,653.5V681.4M121.2,652.3V681.9M161.4,655.7V679.2M164.6,652.4V680.5M150.1,649.0V680.8M123.4,650.9V688.2M173.3,648.4V683.4M170.3,654.2V677.9M127.6,643.5V677.9M164.3,656.6V678.4M168.9,653.5V687.7M161.1,647.4V681.8M166.6,648.5V676.9M119.6,645.1V681.7M122.5,651.0V684.3M178.7,651.6V680.7M167.0,653.7V681.7M155.2,643.4V680.4M144.6,655.2V683.0M148.9,642.2V679.5M174.0,651.4V681.8M182.8,653.1V682.7M168.0,654.6V681.1M162.0,656.7V683.1M117.0,644.4V683.9M156.9,651.7V692.5M159.5,650.4V679.6M158.2,651.5V690.2M165.2,656.3V681.6M139.0,652.5V679.5M148.5,647.3V679.8M170.3,651.9V692.1M123.4,649.7V680.1M116.1,649.0V680.3M138.3,653.5V685.6M163.6,656.8V687.4M166.3,647.9V683.7M183.2,653.0V678.7M146.3,650.8V678.7M164.0,643.8V678.8" stroke="#e00a0a" stroke-width="0.8" opacity="0.45" fill="none"/>
<path d="M120.2,652.3V680.7M126.6,653.2V676.5M120.9,648.9V679.6M144.7,657.9V680.1M142.1,658.5V678.1M183.8,652.2V676.4M129.1,651.2V680.9M168.4,656.7V676.3M131.5,655.7V680.2M154.6,651.4V682.1M125.6,657.9V687.0M177.9,655.7V677.3M116.3,657.1V679.9M156.8,651.8V680.0M117.1,651.9V678.9M151.6,654.4V678.9M146.4,656.9V678.9M165.6,658.1V675.4M120.5,653.5V683.6M167.3,658.0V678.0M130.5,656.4V678.9M159.0,654.7V674.9M151.5,657.1V685.9M142.7,658.0V675.1M175.0,655.5V676.7M152.6,650.3V676.4M133.4,657.5V676.9M127.3,657.2V676.4M133.8,656.7V681.9M132.3,655.4V678.3M164.2,658.0V675.1M163.0,652.5V676.7M179.7,652.5V678.7M169.8,658.5V676.3M140.7,652.2V676.8M129.8,655.3V678.2M138.1,654.7V677.5M126.0,651.1V677.9M150.9,654.4V680.6M124.6,657.0V684.7M132.2,652.8V675.8M151.1,646.5V680.5M158.9,657.7V676.3M151.3,656.9V677.5M117.8,656.6V685.4M118.0,655.6V677.6M165.7,657.2V676.4M127.8,657.6V680.0M167.0,656.2V676.3M181.7,654.5V680.7M150.6,656.1V682.6M177.9,648.9V681.2M160.0,655.1V679.1M172.0,653.1V678.9M158.1,650.4V676.6M169.7,656.3V675.2M122.4,655.4V692.4M139.0,657.2V676.8M142.5,656.6V683.2M116.2,656.9V677.3M158.6,657.5V677.7M116.4,652.0V676.8M177.5,654.3V676.9M125.2,657.2V678.3M163.6,657.3V675.0M125.2,657.3V677.8M166.5,657.0V678.6M170.8,657.2V673.6M175.9,652.8V678.7M151.4,652.3V677.0M127.8,648.3V678.1M169.7,656.3V676.3M149.1,655.5V688.8" stroke="#e00a0a" stroke-width="0.9" opacity="0.9" fill="none"/>
<polygon points="111.4,657.9 111.9,659.5 112.4,662.2 112.9,662.0 113.4,661.1 113.9,660.0 114.4,658.1 114.9,659.0 115.4,658.9 115.9,660.7 116.4,657.2 116.9,658.6 117.4,660.9 117.9,661.6 118.4,659.7 118.9,659.6 119.4,656.9 119.9,660.3 120.4,658.7 120.9,659.0 121.4,657.6 121.9,659.7 122.4,659.5 122.9,657.3 123.4,660.3 123.9,661.5 124.4,661.0 124.9,659.9 125.4,658.7 125.9,659.3 126.4,660.3 126.9,661.0 127.4,658.5 127.9,658.1 128.4,660.4 128.9,659.2 129.4,657.6 129.9,661.0 130.4,660.7 130.9,661.9 131.4,659.4 131.9,659.3 132.4,660.0 132.9,659.8 133.4,657.9 133.9,661.4 134.4,658.1 134.9,661.1 135.4,657.4 135.9,657.3 136.4,659.0 136.9,661.5 137.4,657.5 137.9,658.9 138.4,658.6 138.9,661.2 139.4,659.5 139.9,661.8 140.4,659.4 140.9,661.8 141.4,662.1 141.9,661.8 142.4,662.6 142.9,661.2 143.4,662.1 143.9,658.7 144.4,659.5 144.9,659.7 145.4,662.1 145.9,657.9 146.4,657.6 146.9,659.1 147.4,658.7 147.9,657.3 148.5,659.4 149.0,657.6 149.5,658.5 150.0,657.4 150.5,658.5 151.0,657.5 151.5,657.9 152.0,659.0 152.5,659.9 153.0,658.7 153.5,658.5 154.0,657.1 154.5,659.6 155.0,658.5 155.5,657.0 156.0,657.5 156.5,658.3 157.0,660.4 157.5,659.1 158.0,657.3 158.5,662.1 159.0,659.3 159.5,661.9 160.0,660.1 160.5,659.5 161.0,660.6 161.5,661.5 162.0,659.7 162.5,661.6 163.0,661.8 163.5,661.0 164.0,659.5 164.5,658.9 165.0,662.1 165.5,661.6 166.0,660.9 166.5,660.6 167.0,659.1 167.5,660.8 168.0,662.7 168.5,662.7 169.0,660.6 169.5,659.9 170.0,662.5 170.5,663.0 171.0,662.2 171.5,663.0 172.0,661.4 172.5,660.4 173.0,658.8 173.5,661.7 174.0,661.5 174.5,659.7 175.0,660.9 175.5,659.8 176.0,658.7 176.5,657.4 177.0,657.2 177.5,661.1 178.0,657.7 178.5,659.2 179.0,656.8 179.5,658.7 180.0,657.5 180.5,659.3 181.0,660.7 181.5,657.5 182.0,658.1 182.5,657.4 183.0,657.4 183.5,658.7 184.0,658.6 184.5,661.3 184.5,670.6 184.0,674.2 183.5,672.1 183.0,673.5 182.5,676.0 182.0,672.3 181.5,674.6 181.0,675.0 180.5,674.7 180.0,676.3 179.5,676.0 179.0,673.4 178.5,674.8 178.0,672.1 177.5,676.6 177.0,676.5 176.5,673.6 176.0,674.8 175.5,675.1 175.0,672.6 174.5,674.5 174.0,670.8 173.5,672.6 173.0,673.1 172.5,673.2 172.0,672.3 171.5,672.2 171.0,670.4 170.5,673.0 170.0,671.7 169.5,670.1 169.0,671.3 168.5,673.0 168.0,673.8 167.5,670.6 167.0,674.5 166.5,671.7 166.0,673.0 165.5,671.2 165.0,672.1 164.5,671.3 164.0,673.0 163.5,673.3 163.0,670.5 162.5,672.1 162.0,673.2 161.5,672.9 161.0,670.6 160.5,671.3 160.0,672.0 159.5,674.3 159.0,671.5 158.5,672.3 158.0,672.4 157.5,674.5 157.0,675.2 156.5,674.1 156.0,671.6 155.5,671.9 155.0,673.7 154.5,675.2 154.0,675.1 153.5,676.4 153.0,671.6 152.5,674.1 152.0,674.3 151.5,675.4 151.0,673.2 150.5,675.6 150.0,672.8 149.5,674.9 149.0,674.6 148.5,674.5 147.9,671.2 147.4,672.4 146.9,673.1 146.4,670.9 145.9,674.1 145.4,670.8 144.9,671.3 144.4,673.7 143.9,674.7 143.4,671.9 142.9,672.6 142.4,670.9 141.9,671.9 141.4,670.1 140.9,673.7 140.4,672.6 139.9,672.6 139.4,670.7 138.9,671.3 138.4,673.4 137.9,672.0 137.4,672.0 136.9,671.1 136.4,673.1 135.9,675.3 135.4,671.9 134.9,674.6 134.4,672.1 133.9,675.3 133.4,671.7 132.9,673.6 132.4,675.4 131.9,672.6 131.4,672.0 130.9,671.2 130.4,672.2 129.9,674.4 129.4,671.8 128.9,671.2 128.4,674.7 127.9,671.7 127.4,672.1 126.9,675.2 126.4,671.7 125.9,671.3 125.4,671.4 124.9,671.9 124.4,673.9 123.9,675.4 123.4,671.9 122.9,672.2 122.4,677.1 121.9,672.2 121.4,676.3 120.9,672.1 120.4,677.3 119.9,676.7 119.4,671.4 118.9,676.5 118.4,675.6 117.9,675.0 117.4,672.4 116.9,672.5 116.4,675.0 115.9,675.8 115.4,673.1 114.9,673.3 114.4,673.3 113.9,672.9 113.4,670.9 112.9,671.6 112.4,673.2 111.9,671.4 111.4,673.7" fill="#e00a0a"/>
<path d="M159.3,659.4V674.2M146.0,653.0V680.3M163.3,658.4V674.2M123.2,655.9V679.1M174.6,651.5V675.2M183.5,658.5V679.6M122.8,657.5V675.8M171.1,656.6V678.2M117.8,657.4V682.6M118.9,652.0V675.8M180.8,649.3V680.3M133.8,657.5V679.2M178.0,649.2V680.7M126.9,653.5V675.5M123.3,655.5V679.3M134.3,655.0V676.3M145.6,658.0V678.4M161.4,657.6V674.8M145.2,650.5V675.8M159.0,654.9V674.1M163.1,659.9V677.7M144.9,644.9V674.8M169.5,658.8V677.9M132.8,654.5V678.4M133.4,656.2V678.4M160.0,659.9V675.8M164.6,655.2V681.8M152.5,657.5V679.2M171.5,658.8V673.6M118.7,654.4V682.5M124.9,651.0V679.8M154.6,654.7V677.1M123.2,653.8V679.2M117.1,654.0V676.9M148.8,653.6V681.1M171.1,658.0V674.7" stroke="#980010" stroke-width="0.8" opacity="0.45" fill="none"/>
<path d="M210.0,652.8V691.7M263.2,647.6V682.2M214.4,642.2V688.4M276.1,654.2V679.3M256.8,650.5V678.6M268.3,656.9V680.2M280.2,650.7V678.8M234.4,655.4V682.1M247.5,644.1V682.1M215.5,653.4V687.6M251.5,649.2V681.3M280.8,650.2V685.7M237.2,655.2V680.8M276.5,655.7V680.2M245.6,652.2V681.3M226.3,653.2V687.1M240.0,652.6V689.1M254.6,649.4V684.4M241.5,647.7V681.9M260.2,654.4V683.1M244.6,648.8V687.1M230.4,646.5V677.9M278.6,654.2V678.1M230.9,656.1V681.9M216.5,652.8V682.3M235.7,649.4V677.1M224.6,651.3V683.0M234.8,651.8V687.5M265.8,656.0V682.9M253.1,650.0V689.0M239.8,648.4V678.9M213.7,647.6V682.5M273.4,649.1V679.5M273.7,646.2V678.8M280.3,653.3V684.5M246.3,652.2V688.5M234.5,655.6V692.4M218.3,651.7V680.7M220.9,651.9V685.3M237.4,654.3V680.0M262.9,649.6V688.0M239.7,654.6V678.8M214.9,647.7V679.3M247.3,640.5V682.5M271.7,650.5V689.2M276.0,652.8V682.7M278.1,654.3V677.2M257.6,644.5V678.4M231.1,644.0V680.9M243.0,651.9V684.2M243.0,641.0V689.1M242.2,651.6V689.9" stroke="#e00a0a" stroke-width="0.8" opacity="0.45" fill="none"/>
<path d="M257.5,655.4V676.8M242.4,653.8V677.4M222.7,657.7V674.6M253.6,651.2V687.3M257.9,653.0V675.8M236.6,655.9V683.3M274.7,655.4V678.8M218.5,654.8V676.2M231.7,656.6V675.6M225.0,659.4V676.9M272.9,657.3V676.2M276.5,655.1V677.1M248.6,649.5V686.2M244.2,654.4V677.8M228.1,657.8V673.6M270.8,658.5V676.0M219.9,656.9V684.6M272.1,656.1V678.6M211.0,656.3V677.6M222.6,653.2V676.2M221.3,651.9V676.8M208.6,657.7V677.4M229.8,658.4V677.3M275.3,656.4V678.0M214.4,655.5V679.2M266.0,658.3V674.4M232.4,656.3V675.1M213.8,656.3V685.4M227.2,659.9V674.4M256.0,654.8V680.6M262.2,653.6V679.2M279.9,649.2V680.9M274.7,656.9V674.3M228.0,657.9V679.2M226.7,659.7V676.5M208.3,657.6V675.3M224.7,655.2V675.3M271.0,655.1V676.5M258.8,653.8V681.0M214.8,655.2V677.5M240.5,654.5V682.6M268.3,658.3V676.3M261.1,648.4V678.4M231.0,656.3V676.2M260.1,656.3V677.7M212.8,652.8V680.5M280.2,652.6V675.6M233.9,657.3V677.8M215.9,654.0V677.5M212.4,650.2V683.7M260.4,649.1V676.5M261.9,656.9V678.0M279.8,655.2V681.3M218.5,656.0V681.0M214.4,654.2V687.5M253.5,656.0V676.5M262.8,654.1V680.0M218.0,654.9V680.6M239.2,657.4V676.8M240.5,656.2V676.6M242.6,648.9V679.0M264.1,654.8V685.6M220.1,654.8V676.5M213.3,656.4V676.8M279.8,652.5V685.9M212.4,647.9V683.2M264.8,653.0V677.6M243.2,652.6V681.6M248.0,651.6V679.6M250.8,650.1V678.5M232.1,658.0V677.3M243.2,648.7V677.7M213.3,655.5V678.1M253.2,654.7V680.6" stroke="#e00a0a" stroke-width="0.9" opacity="0.9" fill="none"/>
<polygon points="207.5,658.4 208.0,659.0 208.5,660.3 209.0,662.1 209.5,657.7 210.0,661.6 210.5,657.3 211.0,659.8 211.5,660.3 212.0,661.0 212.5,661.6 213.0,657.7 213.5,659.7 214.0,659.4 214.5,661.7 215.0,656.9 215.5,658.4 216.0,660.0 216.5,658.4 217.0,660.6 217.5,659.2 218.0,659.3 218.5,657.8 219.0,659.6 219.5,660.3 220.0,659.0 220.5,660.2 221.0,659.9 221.5,661.8 222.0,660.5 222.5,661.3 223.0,662.0 223.5,659.4 224.0,659.5 224.5,659.7 225.0,662.5 225.5,659.9 226.0,662.3 226.5,662.1 227.0,663.3 227.5,661.1 228.0,659.8 228.5,663.2 229.0,660.2 229.5,660.6 230.0,660.8 230.5,660.2 231.0,658.7 231.5,661.9 232.0,658.7 232.5,658.3 233.0,659.4 233.5,661.6 234.0,661.4 234.5,659.6 235.0,658.8 235.5,661.6 236.0,658.5 236.5,660.1 237.0,658.7 237.5,661.0 238.0,658.9 238.5,660.1 239.0,660.8 239.5,659.7 240.0,658.7 240.5,657.9 241.0,657.0 241.5,657.4 242.0,661.0 242.5,659.8 243.0,657.7 243.5,658.1 244.0,658.7 244.5,659.5 245.0,659.5 245.5,658.0 246.0,661.3 246.5,658.1 247.0,658.3 247.5,659.9 248.0,659.3 248.5,660.9 249.0,660.1 249.5,660.2 250.0,661.9 250.5,660.5 251.0,659.8 251.5,657.4 252.0,658.5 252.5,659.7 253.0,657.8 253.5,659.7 254.0,657.9 254.5,659.4 255.0,660.1 255.5,658.8 256.0,659.3 256.5,660.4 257.0,660.5 257.5,660.3 258.0,661.4 258.5,659.4 259.0,661.8 259.5,660.6 260.0,659.0 260.5,657.5 261.0,660.3 261.5,658.6 262.0,658.7 262.5,659.7 263.0,660.5 263.5,660.1 264.0,660.2 264.5,661.5 265.0,661.3 265.5,660.4 266.0,659.3 266.5,659.6 267.0,660.1 267.5,662.5 268.0,659.8 268.5,659.5 269.0,661.6 269.5,662.1 270.0,659.7 270.5,661.8 271.0,661.1 271.5,659.7 272.0,659.2 272.5,660.3 273.0,659.4 273.5,660.1 274.0,660.4 274.5,660.9 275.0,660.5 275.5,661.6 276.0,660.9 276.5,660.2 277.0,660.3 277.5,661.4 278.0,660.0 278.5,662.3 279.0,662.2 279.5,662.1 280.0,660.9 280.5,658.4 281.0,656.5 281.5,657.3 281.5,676.8 281.0,676.5 280.5,674.2 280.0,671.4 279.5,670.6 279.0,670.7 278.5,670.4 278.0,673.4 277.5,672.4 277.0,671.7 276.5,673.9 276.0,673.6 275.5,674.1 275.0,673.4 274.5,672.2 274.0,673.3 273.5,673.5 273.0,674.3 272.5,673.1 272.0,673.1 271.5,671.0 271.0,674.3 270.5,671.2 270.0,671.6 269.5,670.9 269.0,670.2 268.5,670.1 268.0,670.8 267.5,673.3 267.0,671.2 266.5,671.5 266.0,673.8 265.5,670.6 265.0,674.9 264.5,671.7 264.0,674.8 263.5,672.9 263.0,673.2 262.5,674.3 262.0,675.2 261.5,675.4 261.0,671.7 260.5,675.6 260.0,673.0 259.5,675.7 259.0,674.9 258.5,672.2 258.0,672.0 257.5,672.4 257.0,673.4 256.5,674.5 256.0,674.3 255.5,675.7 255.0,674.3 254.5,674.7 254.0,672.1 253.5,675.3 253.0,672.3 252.5,674.0 252.0,671.8 251.5,673.5 251.0,672.2 250.5,672.1 250.0,672.9 249.5,676.0 249.0,672.4 248.5,674.7 248.0,673.5 247.5,671.4 247.0,676.1 246.5,675.2 246.0,672.9 245.5,672.1 245.0,673.1 244.5,672.7 244.0,675.2 243.5,672.1 243.0,674.5 242.5,676.6 242.0,673.4 241.5,673.4 241.0,674.0 240.5,675.6 240.0,675.3 239.5,670.8 239.0,673.8 238.5,671.9 238.0,673.6 237.5,672.7 237.0,673.5 236.5,674.2 236.0,672.7 235.5,672.2 235.0,672.2 234.5,671.0 234.0,673.4 233.5,671.7 233.0,673.6 232.5,672.8 232.0,671.7 231.5,671.7 231.0,674.1 230.5,671.3 230.0,672.0 229.5,670.8 229.0,672.9 228.5,670.9 228.0,671.5 227.5,673.1 227.0,669.8 226.5,670.6 226.0,672.5 225.5,669.8 225.0,672.6 224.5,671.2 224.0,670.5 223.5,671.8 223.0,671.8 222.5,670.8 222.0,670.2 221.5,671.5 221.0,670.4 220.5,671.2 220.0,671.0 219.5,672.6 219.0,672.0 218.5,673.2 218.0,671.3 217.5,675.3 217.0,673.0 216.5,671.7 216.0,674.7 215.5,673.0 215.0,676.2 214.5,674.9 214.0,673.1 213.5,674.2 213.0,673.2 212.5,672.0 212.0,674.7 211.5,674.3 211.0,671.7 210.5,671.5 210.0,675.8 209.5,673.3 209.0,671.1 208.5,674.7 208.0,672.3 207.5,671.1" fill="#e00a0a"/>
<path d="M272.4,656.2V675.3M251.6,653.9V677.4M221.0,658.3V676.6M279.9,651.6V674.3M275.5,659.0V673.2M275.7,652.0V679.1M265.6,659.4V680.1M249.1,651.3V676.9M241.3,653.4V681.9M208.4,654.2V679.7M271.3,653.9V674.9M218.6,654.9V684.5M212.5,656.1V676.3M236.0,659.0V674.0M240.6,656.8V679.5M220.8,650.3V676.9M215.6,654.7V681.2M228.4,655.6V674.2M223.2,660.1V681.4M223.2,656.1V672.9M264.8,654.3V680.0M253.7,656.4V675.0M249.9,650.5V678.2M235.5,656.6V676.3M268.7,654.3V673.0M212.1,657.6V678.7M243.4,648.0V684.3M232.2,656.1V673.6M244.6,650.4V681.8M214.3,648.3V676.6M245.6,655.2V678.7M218.9,646.1V675.2M273.0,653.3V675.9M242.8,656.7V677.7M263.0,655.2V680.8M253.5,654.5V680.1M221.0,658.3V676.8" stroke="#980010" stroke-width="0.8" opacity="0.45" fill="none"/>
<path d="M334.3,650.1V678.8M315.0,651.4V683.9M372.6,652.2V683.8M312.6,652.4V680.7M315.9,645.1V680.4M369.0,650.8V684.8M366.7,654.8V678.7M342.4,653.5V682.5M335.2,657.0V679.7M370.7,653.0V687.4M316.1,643.1V692.5M320.4,652.9V681.8M355.9,650.6V680.0M328.6,656.5V676.5M311.7,650.6V690.0M314.5,646.3V679.1M370.6,649.3V678.9M312.1,653.6V687.0M362.8,649.4V681.7M364.1,641.8V680.1M335.7,655.7V681.8M347.8,649.1V679.1M359.2,655.4V684.1M344.9,652.4V683.1M370.1,650.0V679.3M366.4,651.0V684.8M308.5,644.8V685.4M335.3,650.1V677.6M349.1,649.6V681.1M310.6,645.8V680.6M341.8,652.7V678.3M321.8,651.3V681.1M338.4,647.8V678.3M340.9,652.6V678.1M305.6,651.7V679.0M353.1,647.3V678.2M312.8,653.6V681.3M345.5,653.4V678.8M369.3,647.4V692.5M350.9,655.2V679.1M361.9,654.9V682.8M341.8,650.8V685.4M337.3,656.8V678.4M353.4,653.1V682.2M320.2,652.5V687.0M304.3,655.2V683.0M336.6,655.6V679.6M336.7,647.8V680.4M349.6,652.0V684.5M368.7,647.0V679.3M374.4,647.3V689.1M360.2,650.5V684.0" stroke="#ff8a8a" stroke-width="0.8" opacity="0.45" fill="none"/>
<path d="M315.7,655.2V677.0M347.0,657.6V677.1M363.7,656.7V675.4M318.5,652.0V679.0M307.7,653.1V687.3M338.9,657.6V677.3M309.5,654.7V678.0M313.2,651.9V680.6M305.1,658.0V674.5M316.5,652.6V684.0M358.7,659.1V677.6M371.1,649.8V684.1M308.0,652.9V682.1M360.6,657.8V676.3M367.7,655.6V674.9M311.4,655.5V676.0M320.4,650.9V683.7M365.1,655.8V678.8M305.1,658.5V676.8M373.6,654.6V676.9M357.8,659.0V675.6M368.3,655.1V675.9M345.3,653.1V677.4M351.8,657.1V676.1M369.7,655.8V676.7M328.7,658.4V675.2M352.3,656.0V676.4M342.0,652.8V680.1M374.9,651.5V677.5M333.5,657.1V676.1M317.4,654.3V683.8M339.4,657.2V674.8M365.9,654.2V680.2M349.5,657.2V675.8M346.7,654.5V676.8M373.5,653.7V678.7M370.4,650.7V678.7M367.3,653.3V678.5M313.4,654.4V679.7M340.1,656.2V674.5M345.8,654.8V678.8M336.4,657.8V675.4M325.1,654.5V681.6M331.7,658.6V676.7M367.5,658.2V677.2M327.4,657.4V674.9M321.3,652.1V683.2M323.2,658.0V678.4M306.5,653.3V678.0M338.3,656.9V676.8M305.7,658.2V677.1M321.8,651.5V677.9M305.5,656.4V675.7M319.2,655.7V689.4M375.0,653.5V681.8M335.9,656.1V675.4M349.1,654.7V677.0M337.0,657.2V681.1M346.0,657.7V684.1M339.4,655.8V676.4M367.2,657.9V678.9M331.0,658.4V680.5M348.4,656.6V676.5M334.7,658.4V676.0M315.5,651.5V678.9M310.4,655.9V680.6M363.3,654.9V679.2M325.7,651.5V677.6M332.7,658.8V674.4M339.4,651.0V674.2M374.6,656.4V681.0M368.2,656.9V675.5M335.4,656.6V674.5M321.9,657.8V677.3" stroke="#ff8a8a" stroke-width="0.9" opacity="0.9" fill="none"/>
<polygon points="303.8,661.6 304.3,659.1 304.8,659.2 305.3,659.3 305.8,658.8 306.3,658.3 306.8,658.5 307.3,659.9 307.8,659.7 308.3,661.2 308.8,657.6 309.3,658.2 309.8,657.9 310.3,658.3 310.8,660.9 311.3,659.1 311.8,659.4 312.3,659.7 312.8,659.3 313.3,660.6 313.8,659.9 314.3,658.4 314.8,659.7 315.3,656.8 315.8,660.9 316.3,657.1 316.8,660.7 317.3,656.7 317.8,657.0 318.3,656.7 318.8,657.4 319.3,656.1 319.8,657.7 320.3,658.5 320.8,659.0 321.3,658.7 321.8,661.1 322.4,659.7 322.9,661.9 323.4,660.3 323.9,660.8 324.4,661.2 324.9,662.6 325.4,658.9 325.9,661.7 326.4,660.5 326.9,661.0 327.4,659.5 327.9,661.5 328.4,658.9 328.9,660.9 329.4,661.6 329.9,660.8 330.4,659.9 330.9,660.2 331.4,661.9 331.9,661.6 332.4,661.9 332.9,661.6 333.4,661.5 333.9,660.1 334.4,663.0 334.9,662.3 335.4,660.8 335.9,661.8 336.4,662.4 336.9,662.5 337.4,662.0 337.9,661.3 338.4,662.3 338.9,661.0 339.4,658.7 339.9,660.4 340.4,659.1 340.9,658.3 341.4,661.6 341.9,660.8 342.4,661.2 342.9,659.9 343.4,657.5 343.9,657.9 344.4,656.8 344.9,657.1 345.4,659.2 345.9,658.2 346.4,661.9 346.9,660.3 347.4,660.6 347.9,659.1 348.4,662.7 348.9,662.9 349.4,662.6 349.9,659.5 350.4,659.5 350.9,660.1 351.4,659.4 351.9,659.0 352.4,660.9 352.9,660.0 353.4,658.4 353.9,662.1 354.4,660.9 354.9,657.8 355.4,658.4 355.9,660.6 356.4,659.2 356.9,661.5 357.4,659.0 357.9,662.0 358.4,660.9 358.9,660.6 359.4,659.5 360.0,662.4 360.5,661.6 361.0,660.8 361.5,659.3 362.0,659.6 362.5,660.9 363.0,662.6 363.5,662.1 364.0,662.0 364.5,660.5 365.0,661.5 365.5,660.0 366.0,660.2 366.5,660.5 367.0,661.0 367.5,662.2 368.0,660.5 368.5,659.0 369.0,658.2 369.5,658.6 370.0,659.0 370.5,658.9 371.0,660.7 371.5,658.1 372.0,661.4 372.5,658.3 373.0,657.3 373.5,659.3 374.0,658.7 374.5,659.2 375.0,659.1 375.5,659.8 376.0,656.8 376.5,659.8 377.0,659.3 377.5,657.7 378.0,657.0 378.0,673.3 377.5,675.1 377.0,673.3 376.5,671.7 376.0,675.0 375.5,675.1 375.0,676.7 374.5,676.7 374.0,674.7 373.5,676.1 373.0,676.3 372.5,674.2 372.0,674.7 371.5,674.2 371.0,671.7 370.5,673.7 370.0,674.2 369.5,674.5 369.0,674.9 368.5,671.1 368.0,674.8 367.5,673.7 367.0,671.5 366.5,673.8 366.0,670.5 365.5,671.4 365.0,672.4 364.5,674.3 364.0,670.5 363.5,673.9 363.0,673.9 362.5,674.3 362.0,673.0 361.5,671.1 361.0,672.3 360.5,673.8 360.0,672.5 359.4,670.9 358.9,670.3 358.4,670.9 357.9,671.7 357.4,672.5 356.9,672.3 356.4,672.6 355.9,675.1 355.4,674.6 354.9,671.9 354.4,672.4 353.9,671.0 353.4,673.0 352.9,672.0 352.4,675.3 351.9,671.1 351.4,671.7 350.9,673.8 350.4,671.9 349.9,674.0 349.4,672.8 348.9,672.7 348.4,670.2 347.9,671.2 347.4,671.4 346.9,673.9 346.4,671.2 345.9,675.0 345.4,674.1 344.9,673.4 344.4,674.0 343.9,674.9 343.4,672.4 342.9,673.0 342.4,673.5 341.9,675.2 341.4,670.8 340.9,673.1 340.4,671.8 339.9,670.8 339.4,670.4 338.9,673.7 338.4,671.6 337.9,670.3 337.4,671.3 336.9,673.4 336.4,673.5 335.9,671.8 335.4,671.3 334.9,671.9 334.4,673.0 333.9,672.3 333.4,670.3 332.9,670.1 332.4,670.8 331.9,671.0 331.4,672.4 330.9,673.5 330.4,671.2 329.9,673.8 329.4,670.3 328.9,672.9 328.4,672.3 327.9,672.2 327.4,670.2 326.9,671.6 326.4,670.4 325.9,671.2 325.4,670.6 324.9,670.1 324.4,671.4 323.9,670.2 323.4,672.3 322.9,670.5 322.4,670.9 321.8,671.3 321.3,672.4 320.8,672.8 320.3,674.3 319.8,672.5 319.3,674.9 318.8,672.3 318.3,673.7 317.8,672.7 317.3,676.4 316.8,673.7 316.3,674.8 315.8,675.6 315.3,671.5 314.8,675.0 314.3,676.2 313.8,671.6 313.3,672.2 312.8,672.4 312.3,671.9 311.8,674.3 311.3,672.5 310.8,672.2 310.3,673.5 309.8,671.9 309.3,674.1 308.8,676.3 308.3,675.4 307.8,672.7 307.3,672.8 306.8,673.6 306.3,673.0 305.8,671.7 305.3,674.6 304.8,673.9 304.3,673.6 303.8,670.8" fill="#ff8a8a"/>
<path d="M344.8,652.5V675.5M374.9,655.0V675.4M370.2,654.0V677.1M325.9,658.1V679.1M346.8,653.2V675.7M311.6,650.0V681.7M371.1,649.7V675.3M369.0,656.6V674.2M311.9,655.9V679.0M342.8,645.9V678.2M324.6,656.5V677.0M330.4,658.7V678.0M328.2,657.7V674.2M307.2,655.9V676.4M371.6,648.7V683.6M338.7,659.9V674.7M349.8,658.2V678.4M370.9,652.7V678.6M355.8,656.0V675.0M372.5,650.7V676.3M328.3,657.5V673.3M332.5,657.7V676.3M334.0,659.8V675.0M338.5,652.1V673.4M315.3,656.0V677.2M328.1,656.3V673.1M311.8,651.7V677.4M341.7,653.3V676.1M331.0,658.8V678.0M358.8,656.0V673.0M322.7,652.5V683.8M347.1,658.8V676.9M315.8,651.0V677.7M371.4,655.5V681.8M367.2,655.3V676.2M323.4,657.1V678.2M342.7,656.2V686.0" stroke="#f07070" stroke-width="0.8" opacity="0.45" fill="none"/>
<text x="109.8" y="713.4" font-size="14.3" text-anchor="start" fill="#8a8a8a" font-weight="bold">Bulldozer</text>
<text x="110.3" y="730" font-size="14.2" text-anchor="start" fill="#9a9a9a">Exemplar 1</text>
<text x="206.5" y="713.4" font-size="14.3" text-anchor="start" fill="#8a8a8a" font-weight="bold">Bulldozer</text>
<text x="207.0" y="730" font-size="14.2" text-anchor="start" fill="#9a9a9a">Exemplar 1</text>
<text x="302.4" y="713.4" font-size="14.3" text-anchor="start" fill="#8a8a8a" font-weight="bold">Bulldozer</text>
<text x="302.9" y="730" font-size="14.2" text-anchor="start" fill="#9a9a9a">Exemplar 4</text>
<text x="539.0" y="554.4" font-size="21" text-anchor="start" fill="#111" font-weight="bold" textLength="13.8" lengthAdjust="spacingAndGlyphs">C</text>
<text x="602" y="569.1" font-size="26" text-anchor="start" fill="#1a1a1a" textLength="256" lengthAdjust="spacingAndGlyphs">Texture Discrimination</text>
<text x="541.8" y="603.5" font-size="18.6" font-style="italic" fill="#1a1a1a" textLength="382" lengthAdjust="spacingAndGlyphs">Which sound comes from a <tspan font-weight="bold">different source</tspan>?</text>
<text x="536.8" y="625.1" font-size="18.6" text-anchor="start" fill="#1a1a1a" font-style="italic" textLength="391.5" lengthAdjust="spacingAndGlyphs">First or last? Use the middle one as a reference</text>
<line x1="558.4" y1="667" x2="891.4" y2="667" stroke="#444" stroke-width="1.4"/>
<polygon points="897.4,667.0 888.4,671.2 888.4,662.8" fill="#111"/>
<path d="M649.3,654.9V679.2M639.0,648.4V677.7M619.3,650.6V688.5M598.3,644.6V679.7M597.6,646.8V680.7M605.0,643.8V686.7M644.2,656.9V680.7M609.1,650.5V678.8M606.1,653.3V684.5M652.8,647.1V683.4M659.8,645.0V679.2M662.7,644.4V684.2M638.0,656.4V683.4M632.8,652.2V680.6M650.5,654.4V689.5M623.2,649.7V687.1M603.0,648.0V690.5M608.8,645.5V685.5M631.2,652.0V680.9M650.1,655.2V685.8M621.2,648.1V680.1M595.9,651.6V684.9M647.2,650.9V690.5M636.2,640.5V684.9M647.4,653.6V682.7M654.2,648.9V677.8M637.4,653.2V685.6M611.8,654.9V685.0M655.8,655.0V677.7M604.1,652.1V682.7M609.4,653.9V683.6M643.9,654.6V680.6M603.7,645.6V682.0M658.2,657.1V676.2M626.0,640.5V678.6M640.2,654.5V678.8M627.0,650.8V690.4M626.8,653.5V685.8M629.4,649.8V686.8M609.2,652.1V678.5M655.7,656.1V678.8M623.2,653.0V684.2M599.6,653.7V687.4M635.8,653.5V688.3M616.7,648.6V689.5M659.0,656.2V682.1M599.2,643.5V681.4M605.4,650.1V685.5M652.3,650.0V680.0M651.7,654.7V681.6M642.1,655.1V676.1M624.6,650.5V687.5M620.1,650.8V687.0" stroke="#ff8a8a" stroke-width="0.8" opacity="0.45" fill="none"/>
<path d="M607.0,654.2V677.3M608.1,655.2V675.5M657.3,657.3V677.4M610.3,656.1V677.9M647.6,654.7V675.1M613.9,652.9V678.1M644.3,656.9V673.5M659.0,658.3V675.2M643.4,659.5V677.6M664.4,654.7V678.2M666.8,657.1V677.4M665.3,655.7V678.9M639.4,659.0V676.4M651.8,652.1V680.1M651.5,651.3V682.0M654.0,652.9V675.8M645.0,650.3V674.3M641.6,655.7V675.0M615.0,655.3V677.9M603.4,655.4V675.7M626.8,657.6V676.6M640.2,656.5V676.0M615.1,651.8V677.1M623.8,650.5V681.3M601.8,653.2V681.5M654.8,655.3V675.0M639.4,657.3V678.7M655.7,656.7V676.6M662.3,652.6V681.8M653.6,656.4V682.8M593.6,658.1V675.5M618.8,656.4V677.5M652.5,654.9V680.6M634.1,653.4V681.4M639.1,656.4V679.0M600.5,653.6V677.5M611.9,658.4V677.5M651.6,653.2V681.1M647.1,658.5V677.8M615.7,649.3V679.1M666.7,650.3V679.1M661.0,651.0V677.1M651.1,655.5V680.7M665.7,651.4V681.1M599.5,656.0V681.1M660.3,655.7V679.3M602.2,654.9V682.6M595.6,657.2V677.1M640.1,658.8V674.3M663.4,651.6V677.4M635.6,655.1V678.4M622.7,648.9V679.4M607.0,655.8V681.9M609.9,650.5V678.2M605.1,654.4V677.4M612.6,656.5V677.4M601.9,655.9V676.0M599.1,656.1V679.2M618.5,654.2V685.5M641.8,654.6V673.8M643.8,658.2V677.1M648.2,652.0V675.9M639.9,657.1V674.6M642.8,656.4V673.4M660.0,653.2V678.0M612.9,659.2V677.6M632.7,657.9V678.4M657.1,656.8V677.0M601.8,654.1V687.3M608.3,651.8V676.5M630.9,647.2V678.9M650.9,657.5V679.7M624.2,653.9V682.8M612.5,657.8V677.4" stroke="#ff8a8a" stroke-width="0.9" opacity="0.9" fill="none"/>
<polygon points="592.8,662.8 593.3,660.0 593.8,660.4 594.3,661.3 594.8,662.1 595.3,660.7 595.8,658.3 596.3,657.5 596.8,659.1 597.3,659.3 597.8,661.6 598.3,660.6 598.8,660.7 599.3,657.2 599.8,657.9 600.3,658.1 600.8,659.4 601.3,660.9 601.8,657.4 602.3,660.1 602.8,660.0 603.3,660.0 603.8,661.5 604.3,657.0 604.8,659.6 605.3,658.4 605.8,659.2 606.3,659.2 606.8,661.4 607.3,657.9 607.8,659.5 608.3,661.8 608.8,658.6 609.3,660.7 609.8,659.5 610.3,658.4 610.8,658.4 611.3,660.3 611.9,660.8 612.4,661.8 612.9,662.2 613.4,659.5 613.9,660.7 614.4,662.3 614.9,661.1 615.4,661.4 615.9,660.3 616.4,656.7 616.9,659.1 617.4,656.4 617.9,657.6 618.4,660.4 618.9,657.2 619.4,658.3 619.9,658.4 620.4,659.9 620.9,660.0 621.4,661.5 621.9,656.3 622.4,658.3 622.9,656.8 623.4,660.1 623.9,656.4 624.4,661.0 624.9,661.3 625.4,659.6 625.9,657.6 626.4,661.4 626.9,660.6 627.4,661.1 627.9,661.3 628.4,658.8 628.9,662.0 629.4,658.0 629.9,658.4 630.4,660.0 630.9,658.6 631.4,658.8 631.9,658.9 632.4,662.0 632.9,660.7 633.4,660.8 633.9,659.7 634.4,661.9 634.9,660.2 635.4,658.3 635.9,659.6 636.4,660.3 636.9,659.4 637.4,661.4 637.9,658.8 638.4,662.5 638.9,659.6 639.4,661.2 639.9,662.9 640.4,661.4 640.9,661.7 641.4,662.4 641.9,661.8 642.4,660.9 642.9,660.8 643.4,662.5 643.9,661.5 644.4,659.5 644.9,661.2 645.4,660.0 645.9,659.5 646.4,659.4 646.9,658.8 647.4,659.5 647.9,658.5 648.4,659.8 649.0,658.1 649.5,662.4 650.0,660.9 650.5,661.6 651.0,661.8 651.5,657.5 652.0,659.8 652.5,657.3 653.0,661.0 653.5,658.9 654.0,660.9 654.5,660.8 655.0,658.7 655.5,659.8 656.0,660.4 656.5,661.5 657.0,661.3 657.5,660.9 658.0,662.5 658.5,662.1 659.0,659.2 659.5,659.4 660.0,659.4 660.5,659.9 661.0,659.1 661.5,660.6 662.0,658.8 662.5,659.9 663.0,656.7 663.5,660.9 664.0,657.4 664.5,661.6 665.0,660.1 665.5,661.2 666.0,658.7 666.5,658.8 667.0,660.3 667.5,659.1 667.5,673.2 667.0,670.6 666.5,670.5 666.0,674.7 665.5,674.5 665.0,673.6 664.5,672.1 664.0,674.1 663.5,675.7 663.0,673.5 662.5,673.9 662.0,671.8 661.5,671.2 661.0,674.4 660.5,670.9 660.0,670.5 659.5,674.1 659.0,670.2 658.5,670.6 658.0,671.2 657.5,670.9 657.0,671.5 656.5,673.7 656.0,671.3 655.5,671.2 655.0,671.2 654.5,671.8 654.0,675.4 653.5,674.3 653.0,672.6 652.5,674.4 652.0,671.5 651.5,674.5 651.0,672.3 650.5,673.4 650.0,672.5 649.5,672.0 649.0,675.0 648.4,674.2 647.9,672.2 647.4,671.6 646.9,673.5 646.4,673.2 645.9,672.8 645.4,673.7 644.9,671.9 644.4,670.2 643.9,672.1 643.4,671.1 642.9,671.3 642.4,672.5 641.9,670.6 641.4,669.9 640.9,671.3 640.4,671.9 639.9,672.5 639.4,672.5 638.9,673.2 638.4,670.5 637.9,670.6 637.4,671.5 636.9,674.3 636.4,670.6 635.9,672.6 635.4,671.8 634.9,673.9 634.4,673.4 633.9,675.1 633.4,673.1 632.9,675.1 632.4,672.6 631.9,672.3 631.4,672.0 630.9,671.6 630.4,671.1 629.9,670.8 629.4,674.5 628.9,674.2 628.4,673.4 627.9,672.6 627.4,671.6 626.9,673.3 626.4,673.6 625.9,674.3 625.4,671.8 624.9,671.3 624.4,671.8 623.9,676.3 623.4,673.7 622.9,674.7 622.4,675.0 621.9,671.6 621.4,675.2 620.9,675.7 620.4,674.4 619.9,676.1 619.4,673.8 618.9,676.3 618.4,676.0 617.9,671.6 617.4,674.3 616.9,672.7 616.4,675.0 615.9,675.5 615.4,671.1 614.9,672.5 614.4,671.6 613.9,673.8 613.4,673.3 612.9,670.4 612.4,673.7 611.9,671.7 611.3,673.9 610.8,674.4 610.3,672.2 609.8,674.5 609.3,673.7 608.8,674.3 608.3,671.0 607.8,672.2 607.3,672.4 606.8,672.4 606.3,671.7 605.8,673.5 605.3,672.0 604.8,673.7 604.3,673.5 603.8,674.7 603.3,671.2 602.8,676.1 602.3,673.4 601.8,673.2 601.3,675.8 600.8,675.4 600.3,671.8 599.8,674.2 599.3,675.1 598.8,676.2 598.3,675.3 597.8,675.7 597.3,672.1 596.8,672.8 596.3,673.2 595.8,671.4 595.3,671.3 594.8,674.6 594.3,672.4 593.8,670.3 593.3,673.5 592.8,673.9" fill="#ff8a8a"/>
<path d="M594.4,658.6V677.3M607.8,652.0V686.9M662.0,650.7V682.7M629.5,650.2V679.4M597.7,654.9V678.7M618.4,656.0V676.1M643.3,658.3V672.9M607.0,654.7V681.3M610.0,659.1V676.3M637.2,658.8V679.2M599.5,648.5V677.5M628.7,654.7V679.2M605.7,651.6V679.7M627.5,656.1V674.9M607.0,653.1V677.5M626.3,648.2V681.6M618.6,656.0V678.5M631.2,657.9V676.2M618.1,653.7V678.8M641.4,654.6V674.2M628.5,652.2V678.0M622.9,657.5V690.3M631.9,658.9V678.6M630.0,657.9V676.1M622.7,652.0V683.8M649.4,653.1V679.3M623.6,656.6V676.7M651.8,657.6V678.1M628.1,657.7V682.6M624.7,655.8V686.7M650.6,655.7V677.1M663.0,654.8V677.3M620.0,655.5V684.3M614.2,649.2V677.0M599.9,657.1V682.3M660.2,654.5V675.4M651.5,654.4V675.1" stroke="#f07070" stroke-width="0.8" opacity="0.45" fill="none"/>
<path d="M692.6,653.2V679.1M738.1,651.4V685.4M735.8,655.1V678.6M700.6,650.5V679.0M715.9,653.0V677.3M707.5,650.9V678.7M705.7,648.2V690.8M694.3,654.6V680.8M713.3,650.6V678.8M718.5,648.8V680.3M754.2,645.1V684.2M727.9,644.0V692.5M716.9,648.2V681.3M710.0,650.7V681.4M735.4,646.1V679.8M721.9,654.9V678.5M743.6,654.2V683.9M741.8,653.2V679.9M702.8,650.6V682.0M753.7,652.4V681.5M727.0,645.6V684.1M750.8,652.3V682.0M705.7,649.7V684.7M706.7,650.0V682.1M714.0,657.3V678.0M742.0,649.6V685.0M711.2,649.2V682.2M700.5,656.2V689.4M692.9,650.4V676.7M744.4,647.8V677.0M724.2,649.8V678.5M706.5,654.0V679.8M728.1,652.2V688.7M698.4,652.7V678.7M730.9,649.1V679.6M696.8,650.4V679.3M725.0,651.7V681.4M696.1,655.9V681.2M712.7,656.9V680.0M744.3,652.1V677.4M758.6,652.2V685.2M742.6,640.5V678.2M720.2,649.6V681.5M726.9,653.3V681.8M724.7,650.7V688.9M738.3,640.5V685.5M717.7,645.8V683.3M741.5,645.4V681.1M690.6,648.2V688.2M691.9,653.9V681.4M718.3,652.3V679.1" stroke="#e00a0a" stroke-width="0.8" opacity="0.45" fill="none"/>
<path d="M704.7,654.4V677.2M695.7,655.0V676.1M758.9,657.1V681.5M698.7,659.7V674.6M694.8,652.8V673.9M711.6,657.5V675.8M758.6,656.4V685.3M759.9,655.7V678.9M726.3,650.4V677.6M705.8,653.5V677.9M702.5,647.8V679.4M729.0,654.0V679.7M715.0,657.0V675.4M711.6,659.1V676.3M737.6,651.4V681.7M755.5,655.0V679.0M718.2,649.9V676.8M727.3,652.1V679.3M736.3,656.5V680.2M704.6,649.9V678.3M743.1,654.9V677.5M732.1,655.6V675.7M695.9,656.9V673.6M753.6,642.5V684.5M748.4,653.3V677.9M729.6,654.0V680.4M700.5,654.6V677.3M716.4,656.9V675.7M730.0,655.3V682.1M739.3,655.6V681.7M735.0,652.5V675.4M702.4,652.8V682.6M744.9,656.0V682.7M759.3,655.7V681.1M692.6,657.2V674.2M719.9,653.9V678.8M701.6,654.3V675.5M724.4,657.8V677.7M721.3,654.4V678.9M746.7,649.3V682.1M701.1,656.0V675.1M739.4,647.9V683.2M724.0,658.3V675.3M733.3,653.0V677.6M696.7,655.6V675.8M712.7,656.4V674.8M760.0,650.6V682.4M749.5,654.3V679.4M710.1,651.9V674.3M752.6,645.1V678.3M744.0,653.4V675.6M746.2,654.3V675.9M735.6,653.1V675.0M695.8,659.3V680.0M714.3,655.0V674.0M709.6,655.8V675.8M751.6,654.9V679.0M725.4,658.0V683.9M727.4,651.9V681.5M737.2,645.5V685.1M760.4,651.4V681.5M717.1,657.5V677.0M754.6,651.1V680.9M725.0,655.7V683.7M743.6,656.2V678.6M760.7,656.4V680.9M715.3,657.8V675.2M734.3,658.9V679.6M722.9,654.9V680.0M750.8,652.2V683.1M744.8,658.6V674.5M696.4,658.6V681.8" stroke="#e00a0a" stroke-width="0.9" opacity="0.9" fill="none"/>
<polygon points="688.8,660.9 689.3,657.8 689.8,660.3 690.3,658.4 690.8,657.8 691.3,659.4 691.8,659.6 692.3,658.5 692.8,659.7 693.3,660.4 693.8,659.9 694.3,662.3 694.8,661.0 695.3,659.6 695.8,661.2 696.3,660.7 696.8,662.1 697.3,661.1 697.8,661.1 698.3,661.7 698.8,661.4 699.3,659.6 699.8,661.4 700.3,659.0 700.8,660.2 701.3,661.7 701.8,661.0 702.3,659.6 702.8,659.3 703.3,660.9 703.8,656.3 704.3,660.0 704.8,661.0 705.3,656.9 705.8,659.4 706.3,659.6 706.8,659.6 707.4,659.3 707.9,659.7 708.4,661.5 708.9,659.7 709.4,659.2 709.9,661.0 710.4,661.6 710.9,660.3 711.4,662.0 711.9,659.3 712.4,662.6 712.9,662.1 713.4,662.4 713.9,662.7 714.4,662.2 714.9,660.0 715.4,659.4 715.9,661.0 716.4,662.3 716.9,660.0 717.4,658.5 717.9,659.7 718.4,660.7 718.9,661.6 719.4,661.1 719.9,658.7 720.4,659.6 720.9,661.9 721.4,662.1 721.9,662.3 722.4,658.0 722.9,661.5 723.4,661.9 723.9,658.8 724.4,662.5 724.9,659.5 725.4,658.5 725.9,659.4 726.4,657.6 726.9,660.7 727.4,660.7 727.9,658.6 728.4,656.7 728.9,660.3 729.4,656.5 729.9,659.4 730.4,660.7 730.9,661.7 731.4,661.0 731.9,657.9 732.4,660.1 732.9,660.2 733.4,659.7 733.9,659.0 734.4,659.4 734.9,662.2 735.4,661.6 735.9,657.7 736.4,659.9 736.9,657.8 737.4,656.1 737.9,657.1 738.4,656.5 738.9,659.3 739.4,659.9 739.9,656.1 740.4,661.4 740.9,661.2 741.4,660.3 741.9,659.9 742.4,660.7 742.9,661.2 743.5,658.8 744.0,661.0 744.5,658.5 745.0,661.6 745.5,661.4 746.0,661.7 746.5,657.6 747.0,661.6 747.5,658.2 748.0,661.7 748.5,660.1 749.0,659.1 749.5,658.8 750.0,658.4 750.5,658.3 751.0,660.2 751.5,661.1 752.0,658.9 752.5,660.1 753.0,657.6 753.5,661.1 754.0,657.8 754.5,659.9 755.0,656.0 755.5,659.1 756.0,660.5 756.5,656.5 757.0,657.2 757.5,657.1 758.0,660.6 758.5,658.2 759.0,658.7 759.5,658.9 760.0,657.5 760.5,656.4 761.0,660.3 761.5,660.8 761.5,675.6 761.0,673.7 760.5,674.5 760.0,673.2 759.5,673.1 759.0,672.4 758.5,674.2 758.0,674.0 757.5,675.4 757.0,672.8 756.5,674.5 756.0,673.8 755.5,674.8 755.0,673.6 754.5,675.7 754.0,673.5 753.5,677.1 753.0,675.3 752.5,674.3 752.0,675.9 751.5,672.3 751.0,671.4 750.5,673.1 750.0,675.2 749.5,671.3 749.0,673.3 748.5,675.6 748.0,672.6 747.5,673.4 747.0,673.1 746.5,674.6 746.0,670.8 745.5,671.9 745.0,671.0 744.5,672.6 744.0,670.5 743.5,674.5 742.9,672.9 742.4,674.4 741.9,672.8 741.4,671.9 740.9,673.6 740.4,673.2 739.9,673.3 739.4,672.1 738.9,673.5 738.4,675.6 737.9,676.9 737.4,676.8 736.9,673.1 736.4,674.2 735.9,675.2 735.4,672.9 734.9,670.7 734.4,673.7 733.9,673.0 733.4,670.3 732.9,672.5 732.4,674.2 731.9,671.3 731.4,673.4 730.9,673.0 730.4,672.1 729.9,675.1 729.4,675.9 728.9,674.0 728.4,677.2 727.9,675.5 727.4,676.0 726.9,672.7 726.4,673.7 725.9,672.7 725.4,674.9 724.9,671.4 724.4,672.2 723.9,674.0 723.4,671.9 722.9,672.9 722.4,674.4 721.9,673.6 721.4,674.4 720.9,673.2 720.4,673.9 719.9,671.3 719.4,675.6 718.9,674.5 718.4,672.5 717.9,672.3 717.4,674.4 716.9,672.5 716.4,671.5 715.9,674.0 715.4,670.4 714.9,673.7 714.4,671.3 713.9,671.7 713.4,671.0 712.9,673.2 712.4,670.8 711.9,671.3 711.4,670.2 710.9,671.7 710.4,670.7 709.9,672.5 709.4,670.1 708.9,672.5 708.4,673.2 707.9,672.9 707.4,672.5 706.8,675.3 706.3,673.5 705.8,675.7 705.3,676.6 704.8,674.1 704.3,676.0 703.8,675.8 703.3,675.0 702.8,672.8 702.3,673.2 701.8,674.0 701.3,675.1 700.8,672.3 700.3,674.1 699.8,671.5 699.3,671.1 698.8,670.0 698.3,672.1 697.8,671.7 697.3,670.8 696.8,671.2 696.3,673.2 695.8,671.4 695.3,671.8 694.8,670.1 694.3,670.1 693.8,672.5 693.3,670.6 692.8,674.0 692.3,671.7 691.8,671.8 691.3,674.3 690.8,676.1 690.3,676.5 689.8,676.4 689.3,673.6 688.8,677.0" fill="#e00a0a"/>
<path d="M694.1,660.2V676.6M694.2,655.5V678.5M749.7,653.6V684.7M745.6,654.4V681.1M756.0,650.8V681.8M747.9,658.0V674.5M738.0,654.0V675.7M698.9,655.0V677.3M693.0,653.9V673.6M710.2,657.2V676.0M740.4,648.5V678.1M703.6,650.7V679.0M712.6,660.2V676.8M693.0,659.0V674.6M750.5,652.4V688.8M753.9,651.3V685.7M760.1,652.3V677.1M737.6,653.1V675.8M741.8,657.8V679.0M690.9,654.2V682.9M699.2,659.4V675.6M710.6,658.9V672.8M703.7,654.2V686.1M747.1,653.0V690.3M707.8,658.6V677.6M758.2,650.2V677.8M744.9,652.2V675.2M712.8,656.4V678.1M756.7,657.6V684.1M741.0,656.7V677.1M729.6,653.4V678.4M733.6,656.8V677.3M727.6,653.3V683.1M695.0,658.5V673.3M727.0,654.3V682.5M690.0,654.1V676.2" stroke="#980010" stroke-width="0.8" opacity="0.45" fill="none"/>
<path d="M856.6,654.0V680.0M797.2,651.3V682.8M840.5,649.5V678.5M830.0,649.7V676.6M841.6,655.7V679.0M804.8,651.0V678.2M789.3,648.2V691.4M846.0,654.7V678.6M830.8,645.5V677.4M795.1,647.7V689.8M804.1,654.9V682.9M830.8,649.6V677.6M846.9,651.3V676.7M846.2,654.5V679.7M840.4,645.8V679.9M814.7,653.7V683.7M796.3,652.5V687.1M800.6,642.9V680.2M844.5,655.2V680.7M843.3,653.7V678.2M841.8,646.9V679.2M819.7,645.1V679.1M816.1,654.9V681.2M791.0,644.8V689.9M841.4,655.0V684.3M834.3,652.7V678.9M826.5,650.7V677.8M856.5,648.1V682.9M813.4,655.1V678.1M795.1,646.0V681.1M836.6,653.9V680.2M805.5,651.7V676.7M796.0,645.1V688.1M858.5,647.0V692.5M841.2,655.9V685.3M831.1,655.3V678.1M845.6,654.7V678.1M820.2,651.9V681.5M813.0,647.2V681.5M833.4,649.9V685.0M809.4,644.3V678.7M849.2,655.5V689.4M841.0,647.7V682.0M852.3,641.2V677.7M797.1,643.5V680.9M807.5,651.6V678.4M845.5,653.4V688.9M857.7,651.7V681.6M806.3,653.2V680.3M801.9,643.3V687.9M840.5,651.5V689.0" stroke="#6284d4" stroke-width="0.8" opacity="0.45" fill="none"/>
<path d="M812.5,652.3V675.4M795.0,653.2V680.2M844.2,656.9V676.2M803.1,657.4V674.7M799.2,647.7V681.9M826.9,655.2V673.7M846.9,658.5V673.8M836.7,654.3V674.4M833.7,658.1V674.9M817.9,655.7V680.4M791.6,655.6V690.2M828.3,655.9V679.5M849.3,658.5V676.3M795.5,653.2V686.7M839.1,655.3V682.9M833.6,655.4V681.5M805.2,658.9V681.4M793.2,652.3V680.9M830.0,656.3V681.2M804.9,656.0V675.8M805.2,657.8V674.4M795.7,654.5V677.7M808.3,656.1V676.7M846.6,658.5V674.3M846.7,656.7V678.8M793.6,655.6V689.3M807.7,655.8V678.6M850.4,659.7V674.8M853.4,659.2V681.5M858.5,652.9V682.4M791.0,653.7V683.1M805.9,658.3V677.5M822.0,654.8V676.4M828.8,658.9V675.9M846.4,658.6V680.5M821.3,657.2V674.7M821.9,653.4V681.1M853.0,656.9V677.9M850.2,655.3V674.1M812.7,657.7V675.3M829.7,652.0V675.7M833.5,657.5V677.2M791.9,655.8V686.2M815.8,657.2V680.2M803.2,656.6V673.8M812.0,656.9V677.9M812.9,649.1V678.6M800.0,655.3V680.0M811.7,650.2V675.6M802.2,658.1V678.0M830.0,654.2V673.9M802.1,655.9V676.8M845.0,655.1V676.9M859.5,656.7V676.6M798.1,655.3V678.9M841.6,655.8V676.2M833.5,653.8V675.4M860.4,656.7V680.2M853.9,654.3V675.8M813.7,653.6V679.0M843.4,657.3V677.1M819.3,656.6V678.0M797.6,656.1V679.7M814.5,651.9V675.5M833.8,649.2V679.6M860.0,657.2V684.2M839.3,656.3V674.2M806.1,653.3V675.0M831.3,654.6V679.1M806.0,658.6V675.9M806.0,656.2V677.7M841.7,654.6V678.8" stroke="#6284d4" stroke-width="0.9" opacity="0.9" fill="none"/>
<polygon points="788.8,657.0 789.3,660.9 789.8,657.8 790.3,657.6 790.8,659.1 791.3,659.1 791.8,657.4 792.3,660.7 792.8,657.0 793.3,658.6 793.8,660.1 794.3,659.3 794.8,660.1 795.3,660.7 795.8,659.7 796.3,656.5 796.8,659.2 797.3,659.6 797.8,658.2 798.3,660.7 798.8,657.3 799.3,660.0 799.8,656.5 800.3,656.7 800.8,657.1 801.3,660.3 801.8,659.0 802.3,658.7 802.8,659.3 803.3,659.4 803.8,661.9 804.3,661.7 804.8,662.7 805.3,662.1 805.8,658.8 806.3,662.1 806.8,661.6 807.3,658.4 807.8,660.1 808.3,659.8 808.8,657.6 809.3,657.6 809.8,660.0 810.3,658.0 810.8,661.0 811.3,660.3 811.8,659.6 812.3,658.5 812.8,659.5 813.3,659.8 813.8,661.3 814.3,662.0 814.8,659.9 815.3,659.8 815.8,660.2 816.3,662.3 816.8,658.5 817.3,658.1 817.8,658.9 818.3,660.0 818.8,661.8 819.3,659.9 819.8,659.7 820.3,659.9 820.8,658.5 821.3,658.8 821.8,660.7 822.3,660.2 822.8,661.8 823.3,661.7 823.8,659.4 824.3,661.6 824.8,659.9 825.4,660.9 825.9,661.9 826.4,662.1 826.9,659.6 827.4,662.5 827.9,662.5 828.4,661.2 828.9,661.9 829.4,661.9 829.9,660.3 830.4,659.5 830.9,661.2 831.4,659.0 831.9,659.3 832.4,659.4 832.9,662.0 833.4,659.4 833.9,657.8 834.4,661.5 834.9,659.6 835.4,659.2 835.9,659.4 836.4,659.3 836.9,660.1 837.4,661.4 837.9,662.4 838.4,662.0 838.9,661.6 839.4,660.7 839.9,661.0 840.4,660.0 840.9,658.7 841.4,658.7 841.9,658.1 842.4,660.7 842.9,658.6 843.4,660.5 843.9,658.8 844.4,661.4 844.9,662.2 845.4,660.7 845.9,660.2 846.4,661.8 846.9,660.3 847.4,662.5 847.9,661.1 848.4,661.4 848.9,661.8 849.4,660.0 849.9,660.9 850.4,663.0 850.9,661.8 851.4,663.0 851.9,661.8 852.4,660.5 852.9,660.7 853.4,662.5 853.9,662.9 854.4,661.2 854.9,662.5 855.4,660.9 855.9,659.9 856.4,659.6 856.9,659.3 857.4,661.0 857.9,656.8 858.4,660.3 858.9,658.9 859.4,660.2 859.9,661.7 860.4,659.0 860.9,661.2 860.9,674.4 860.4,675.7 859.9,675.3 859.4,676.3 858.9,675.4 858.4,673.8 857.9,672.5 857.4,672.7 856.9,673.3 856.4,674.0 855.9,671.7 855.4,670.8 854.9,670.3 854.4,671.9 853.9,672.0 853.4,672.1 852.9,670.8 852.4,672.4 851.9,673.4 851.4,669.9 850.9,671.1 850.4,672.8 849.9,671.3 849.4,673.2 848.9,671.9 848.4,672.0 847.9,673.3 847.4,673.0 846.9,671.8 846.4,671.5 845.9,672.1 845.4,674.1 844.9,672.0 844.4,672.5 843.9,673.2 843.4,674.0 842.9,670.8 842.4,674.1 841.9,671.1 841.4,674.7 840.9,671.7 840.4,673.4 839.9,671.7 839.4,673.7 838.9,672.7 838.4,671.9 837.9,673.7 837.4,670.8 836.9,672.8 836.4,673.9 835.9,673.0 835.4,672.6 834.9,671.2 834.4,670.7 833.9,674.9 833.4,671.4 832.9,674.8 832.4,671.9 831.9,672.2 831.4,670.8 830.9,670.9 830.4,671.4 829.9,670.3 829.4,674.0 828.9,673.5 828.4,673.5 827.9,672.3 827.4,671.9 826.9,672.0 826.4,671.0 825.9,670.3 825.4,671.0 824.8,671.8 824.3,671.6 823.8,671.2 823.3,671.1 822.8,671.3 822.3,672.6 821.8,673.5 821.3,674.1 820.8,670.9 820.3,672.0 819.8,673.4 819.3,674.1 818.8,674.2 818.3,672.9 817.8,671.7 817.3,671.8 816.8,671.4 816.3,672.5 815.8,674.0 815.3,672.8 814.8,671.7 814.3,673.2 813.8,674.9 813.3,674.4 812.8,672.2 812.3,671.2 811.8,673.3 811.3,674.5 810.8,672.3 810.3,674.0 809.8,674.4 809.3,674.4 808.8,675.0 808.3,672.6 807.8,675.2 807.3,671.9 806.8,673.1 806.3,672.7 805.8,671.1 805.3,673.8 804.8,671.8 804.3,670.6 803.8,673.5 803.3,672.7 802.8,672.1 802.3,673.6 801.8,673.5 801.3,670.8 800.8,671.3 800.3,672.1 799.8,674.7 799.3,674.7 798.8,676.4 798.3,676.2 797.8,673.2 797.3,676.2 796.8,673.4 796.3,673.6 795.8,675.1 795.3,672.0 794.8,672.4 794.3,676.6 793.8,672.8 793.3,675.6 792.8,675.2 792.3,674.6 791.8,673.6 791.3,675.1 790.8,676.2 790.3,677.4 789.8,675.6 789.3,676.3 788.8,673.8" fill="#6284d4"/>
<path d="M815.0,657.3V674.2M818.7,653.3V679.0M814.4,655.6V680.6M840.7,659.0V679.7M835.9,656.6V678.0M855.4,659.4V675.8M830.4,658.0V678.5M812.5,654.8V674.0M845.5,657.4V677.1M831.2,659.2V677.5M820.5,657.9V679.0M800.7,654.8V679.5M826.6,652.8V675.4M835.8,656.7V678.0M817.9,652.3V677.4M820.4,656.3V675.2M793.1,651.8V677.6M816.2,656.0V674.8M805.9,656.5V674.3M807.9,650.5V674.7M793.6,650.7V676.4M852.9,658.2V675.0M858.5,653.8V683.8M849.2,658.5V672.8M845.5,652.3V679.3M794.4,649.6V679.0M818.6,655.9V679.5M822.0,657.0V679.7M799.7,656.9V677.7M790.4,656.7V677.5M822.7,659.7V673.5M822.3,659.4V675.8M827.8,659.5V674.0M855.5,656.9V673.6M836.2,656.7V675.1M827.6,659.9V676.0" stroke="#3f5fb0" stroke-width="0.8" opacity="0.45" fill="none"/>
<text x="592.2" y="713.4" font-size="14.3" text-anchor="start" fill="#8a8a8a" font-weight="bold">Bulldozer</text>
<text x="592.7" y="730" font-size="14.2" text-anchor="start" fill="#9a9a9a">Exemplar 4</text>
<text x="688.5" y="713.4" font-size="14.3" text-anchor="start" fill="#8a8a8a" font-weight="bold">Bulldozer</text>
<text x="689.0" y="730" font-size="14.2" text-anchor="start" fill="#9a9a9a">Exemplar 1</text>
<text x="788.8" y="713.4" font-size="14.3" text-anchor="start" fill="#8a8a8a" font-weight="bold">Waterfall</text>
<text x="789.3" y="730" font-size="14.2" text-anchor="start" fill="#9a9a9a">Exemplar 1</text>
<text x="18.6" y="805.6" font-size="21.5" text-anchor="start" fill="#111" font-weight="bold" textLength="15.2" lengthAdjust="spacingAndGlyphs">D</text>
<text x="101" y="809.4" font-size="26" text-anchor="start" fill="#1a1a1a" textLength="807" lengthAdjust="spacingAndGlyphs">Average statistical variability among sound triplets in each experiment</text>
<rect x="131.5" y="836.3" width="17" height="16.3" fill="#ffffff" stroke="#111" stroke-width="1.6"/>
<text x="155.0" y="849.9" font-size="19.8" text-anchor="start" fill="#1a1a1a">Diff Exemplar</text>
<line x1="80.5" y1="863.7" x2="80.5" y2="992.6" stroke="#888" stroke-width="1"/>
<line x1="80.5" y1="992.6" x2="506.5" y2="992.6" stroke="#888" stroke-width="1.2"/>
<text x="74.5" y="998.6" font-size="16" text-anchor="end" fill="#2a2a2a">0</text>
<line x1="80.5" y1="955.9" x2="84.5" y2="955.9" stroke="#888" stroke-width="1"/>
<text x="74.5" y="961.9" font-size="16" text-anchor="end" fill="#2a2a2a">0.02</text>
<line x1="80.5" y1="919.2" x2="84.5" y2="919.2" stroke="#888" stroke-width="1"/>
<text x="74.5" y="925.2" font-size="16" text-anchor="end" fill="#2a2a2a">0.04</text>
<line x1="80.5" y1="882.5" x2="84.5" y2="882.5" stroke="#888" stroke-width="1"/>
<text x="74.5" y="888.5" font-size="16" text-anchor="end" fill="#2a2a2a">0.06</text>
<rect x="131.2" y="910.5" width="25.6" height="82.1" fill="#ffffff" stroke="#111" stroke-width="1.6"/>
<line x1="144" y1="992.6" x2="144" y2="988.6" stroke="#999" stroke-width="1"/>
<line x1="144" y1="898.6" x2="144" y2="923.5" stroke="#111" stroke-width="1.5"/>
<line x1="139.5" y1="898.6" x2="148.5" y2="898.6" stroke="#111" stroke-width="1.5"/>
<line x1="139.5" y1="923.5" x2="148.5" y2="923.5" stroke="#111" stroke-width="1.5"/>
<text x="144" y="1012.2" font-size="15.6" text-anchor="middle" fill="#2a2a2a">40</text>
<rect x="194.6" y="927.2" width="25.6" height="65.4" fill="#ffffff" stroke="#111" stroke-width="1.6"/>
<line x1="207.4" y1="992.6" x2="207.4" y2="988.6" stroke="#999" stroke-width="1"/>
<line x1="207.4" y1="918.5" x2="207.4" y2="936.2" stroke="#111" stroke-width="1.5"/>
<line x1="202.9" y1="918.5" x2="211.9" y2="918.5" stroke="#111" stroke-width="1.5"/>
<line x1="202.9" y1="936.2" x2="211.9" y2="936.2" stroke="#111" stroke-width="1.5"/>
<text x="207.4" y="1012.2" font-size="15.6" text-anchor="middle" fill="#2a2a2a">91</text>
<rect x="257.8" y="940.6" width="25.6" height="52.0" fill="#ffffff" stroke="#111" stroke-width="1.6"/>
<line x1="270.6" y1="992.6" x2="270.6" y2="988.6" stroke="#999" stroke-width="1"/>
<line x1="270.6" y1="933.6" x2="270.6" y2="947.8" stroke="#111" stroke-width="1.5"/>
<line x1="266.1" y1="933.6" x2="275.1" y2="933.6" stroke="#111" stroke-width="1.5"/>
<line x1="266.1" y1="947.8" x2="275.1" y2="947.8" stroke="#111" stroke-width="1.5"/>
<text x="270.6" y="1012.2" font-size="15.6" text-anchor="middle" fill="#2a2a2a">209</text>
<rect x="321.5" y="946.3" width="25.6" height="46.3" fill="#ffffff" stroke="#111" stroke-width="1.6"/>
<line x1="334.3" y1="992.6" x2="334.3" y2="988.6" stroke="#999" stroke-width="1"/>
<line x1="334.3" y1="935.2" x2="334.3" y2="958" stroke="#111" stroke-width="1.5"/>
<line x1="329.8" y1="935.2" x2="338.8" y2="935.2" stroke="#111" stroke-width="1.5"/>
<line x1="329.8" y1="958" x2="338.8" y2="958" stroke="#111" stroke-width="1.5"/>
<text x="334.3" y="1012.2" font-size="15.6" text-anchor="middle" fill="#2a2a2a">478</text>
<rect x="384.9" y="968.6" width="25.6" height="24.0" fill="#ffffff" stroke="#111" stroke-width="1.6"/>
<line x1="397.7" y1="992.6" x2="397.7" y2="988.6" stroke="#999" stroke-width="1"/>
<line x1="397.7" y1="965.4" x2="397.7" y2="972" stroke="#111" stroke-width="1.5"/>
<line x1="393.2" y1="965.4" x2="402.2" y2="965.4" stroke="#111" stroke-width="1.5"/>
<line x1="393.2" y1="972" x2="402.2" y2="972" stroke="#111" stroke-width="1.5"/>
<text x="397.7" y="1012.2" font-size="15.6" text-anchor="middle" fill="#2a2a2a">1093</text>
<rect x="448.1" y="976.3" width="25.6" height="16.3" fill="#ffffff" stroke="#111" stroke-width="1.6"/>
<line x1="460.9" y1="992.6" x2="460.9" y2="988.6" stroke="#999" stroke-width="1"/>
<line x1="460.9" y1="973.7" x2="460.9" y2="978.9" stroke="#111" stroke-width="1.5"/>
<line x1="456.4" y1="973.7" x2="465.4" y2="973.7" stroke="#111" stroke-width="1.5"/>
<line x1="456.4" y1="978.9" x2="465.4" y2="978.9" stroke="#111" stroke-width="1.5"/>
<text x="460.9" y="1012.2" font-size="15.6" text-anchor="middle" fill="#2a2a2a">2500</text>
<rect x="615.4" y="836.3" width="17" height="16.3" fill="#e8e8e8" stroke="#111" stroke-width="1.6"/>
<text x="637.6999999999999" y="849.9" font-size="19.8" text-anchor="start" fill="#1a1a1a" textLength="101.5" lengthAdjust="spacingAndGlyphs">Diff Texture</text>
<line x1="556.4" y1="863.7" x2="556.4" y2="992.6" stroke="#888" stroke-width="1"/>
<line x1="556.4" y1="992.6" x2="991.1" y2="992.6" stroke="#888" stroke-width="1.2"/>
<text x="550.5" y="998.6" font-size="16" text-anchor="end" fill="#2a2a2a">0</text>
<line x1="556.4" y1="955.9" x2="560.4" y2="955.9" stroke="#888" stroke-width="1"/>
<text x="550.5" y="961.9" font-size="16" text-anchor="end" fill="#2a2a2a">0.02</text>
<line x1="556.4" y1="919.2" x2="560.4" y2="919.2" stroke="#888" stroke-width="1"/>
<text x="550.5" y="925.2" font-size="16" text-anchor="end" fill="#2a2a2a">0.04</text>
<line x1="556.4" y1="882.5" x2="560.4" y2="882.5" stroke="#888" stroke-width="1"/>
<text x="550.5" y="888.5" font-size="16" text-anchor="end" fill="#2a2a2a">0.06</text>
<rect x="607.6" y="933.2" width="25.6" height="59.4" fill="#e8e8e8" stroke="#111" stroke-width="1.6"/>
<line x1="620.4" y1="992.6" x2="620.4" y2="988.6" stroke="#999" stroke-width="1"/>
<line x1="620.4" y1="922.8" x2="620.4" y2="943.8" stroke="#111" stroke-width="1.5"/>
<line x1="615.9" y1="922.8" x2="624.9" y2="922.8" stroke="#111" stroke-width="1.5"/>
<line x1="615.9" y1="943.8" x2="624.9" y2="943.8" stroke="#111" stroke-width="1.5"/>
<text x="620.4" y="1012.2" font-size="15.6" text-anchor="middle" fill="#2a2a2a">40</text>
<rect x="671.0" y="905.4" width="25.6" height="87.2" fill="#e8e8e8" stroke="#111" stroke-width="1.6"/>
<line x1="683.8" y1="992.6" x2="683.8" y2="988.6" stroke="#999" stroke-width="1"/>
<line x1="683.8" y1="897.2" x2="683.8" y2="914.5" stroke="#111" stroke-width="1.5"/>
<line x1="679.3" y1="897.2" x2="688.3" y2="897.2" stroke="#111" stroke-width="1.5"/>
<line x1="679.3" y1="914.5" x2="688.3" y2="914.5" stroke="#111" stroke-width="1.5"/>
<text x="683.8" y="1012.2" font-size="15.6" text-anchor="middle" fill="#2a2a2a">91</text>
<rect x="734.5" y="901.4" width="25.6" height="91.2" fill="#e8e8e8" stroke="#111" stroke-width="1.6"/>
<line x1="747.3" y1="992.6" x2="747.3" y2="988.6" stroke="#999" stroke-width="1"/>
<line x1="747.3" y1="889" x2="747.3" y2="914.2" stroke="#111" stroke-width="1.5"/>
<line x1="742.8" y1="889" x2="751.8" y2="889" stroke="#111" stroke-width="1.5"/>
<line x1="742.8" y1="914.2" x2="751.8" y2="914.2" stroke="#111" stroke-width="1.5"/>
<text x="747.3" y="1012.2" font-size="15.6" text-anchor="middle" fill="#2a2a2a">209</text>
<rect x="797.8" y="890.5" width="25.6" height="102.1" fill="#e8e8e8" stroke="#111" stroke-width="1.6"/>
<line x1="810.6" y1="992.6" x2="810.6" y2="988.6" stroke="#999" stroke-width="1"/>
<line x1="810.6" y1="881" x2="810.6" y2="900.2" stroke="#111" stroke-width="1.5"/>
<line x1="806.1" y1="881" x2="815.1" y2="881" stroke="#111" stroke-width="1.5"/>
<line x1="806.1" y1="900.2" x2="815.1" y2="900.2" stroke="#111" stroke-width="1.5"/>
<text x="810.6" y="1012.2" font-size="15.6" text-anchor="middle" fill="#2a2a2a">478</text>
<rect x="861.3" y="895.5" width="25.6" height="97.1" fill="#e8e8e8" stroke="#111" stroke-width="1.6"/>
<line x1="874.1" y1="992.6" x2="874.1" y2="988.6" stroke="#999" stroke-width="1"/>
<line x1="874.1" y1="882.9" x2="874.1" y2="908.6" stroke="#111" stroke-width="1.5"/>
<line x1="869.6" y1="882.9" x2="878.6" y2="882.9" stroke="#111" stroke-width="1.5"/>
<line x1="869.6" y1="908.6" x2="878.6" y2="908.6" stroke="#111" stroke-width="1.5"/>
<text x="874.1" y="1012.2" font-size="15.6" text-anchor="middle" fill="#2a2a2a">1093</text>
<rect x="924.9" y="892.1" width="25.6" height="100.5" fill="#e8e8e8" stroke="#111" stroke-width="1.6"/>
<line x1="937.7" y1="992.6" x2="937.7" y2="988.6" stroke="#999" stroke-width="1"/>
<line x1="937.7" y1="883.7" x2="937.7" y2="900.8" stroke="#111" stroke-width="1.5"/>
<line x1="933.2" y1="883.7" x2="942.2" y2="883.7" stroke="#111" stroke-width="1.5"/>
<line x1="933.2" y1="900.8" x2="942.2" y2="900.8" stroke="#111" stroke-width="1.5"/>
<text x="937.7" y="1012.2" font-size="15.6" text-anchor="middle" fill="#2a2a2a">2500</text>
<text x="0" y="0" font-size="20" fill="#1a1a1a" transform="translate(35.3,999.3) rotate(-90)" textLength="156" lengthAdjust="spacingAndGlyphs">Mean Std of Stats</text>
<text x="195" y="1048.4" font-size="20.4" text-anchor="start" fill="#1a1a1a" textLength="196" lengthAdjust="spacingAndGlyphs">Excerpt duration (ms)</text>
</svg></body></html>
